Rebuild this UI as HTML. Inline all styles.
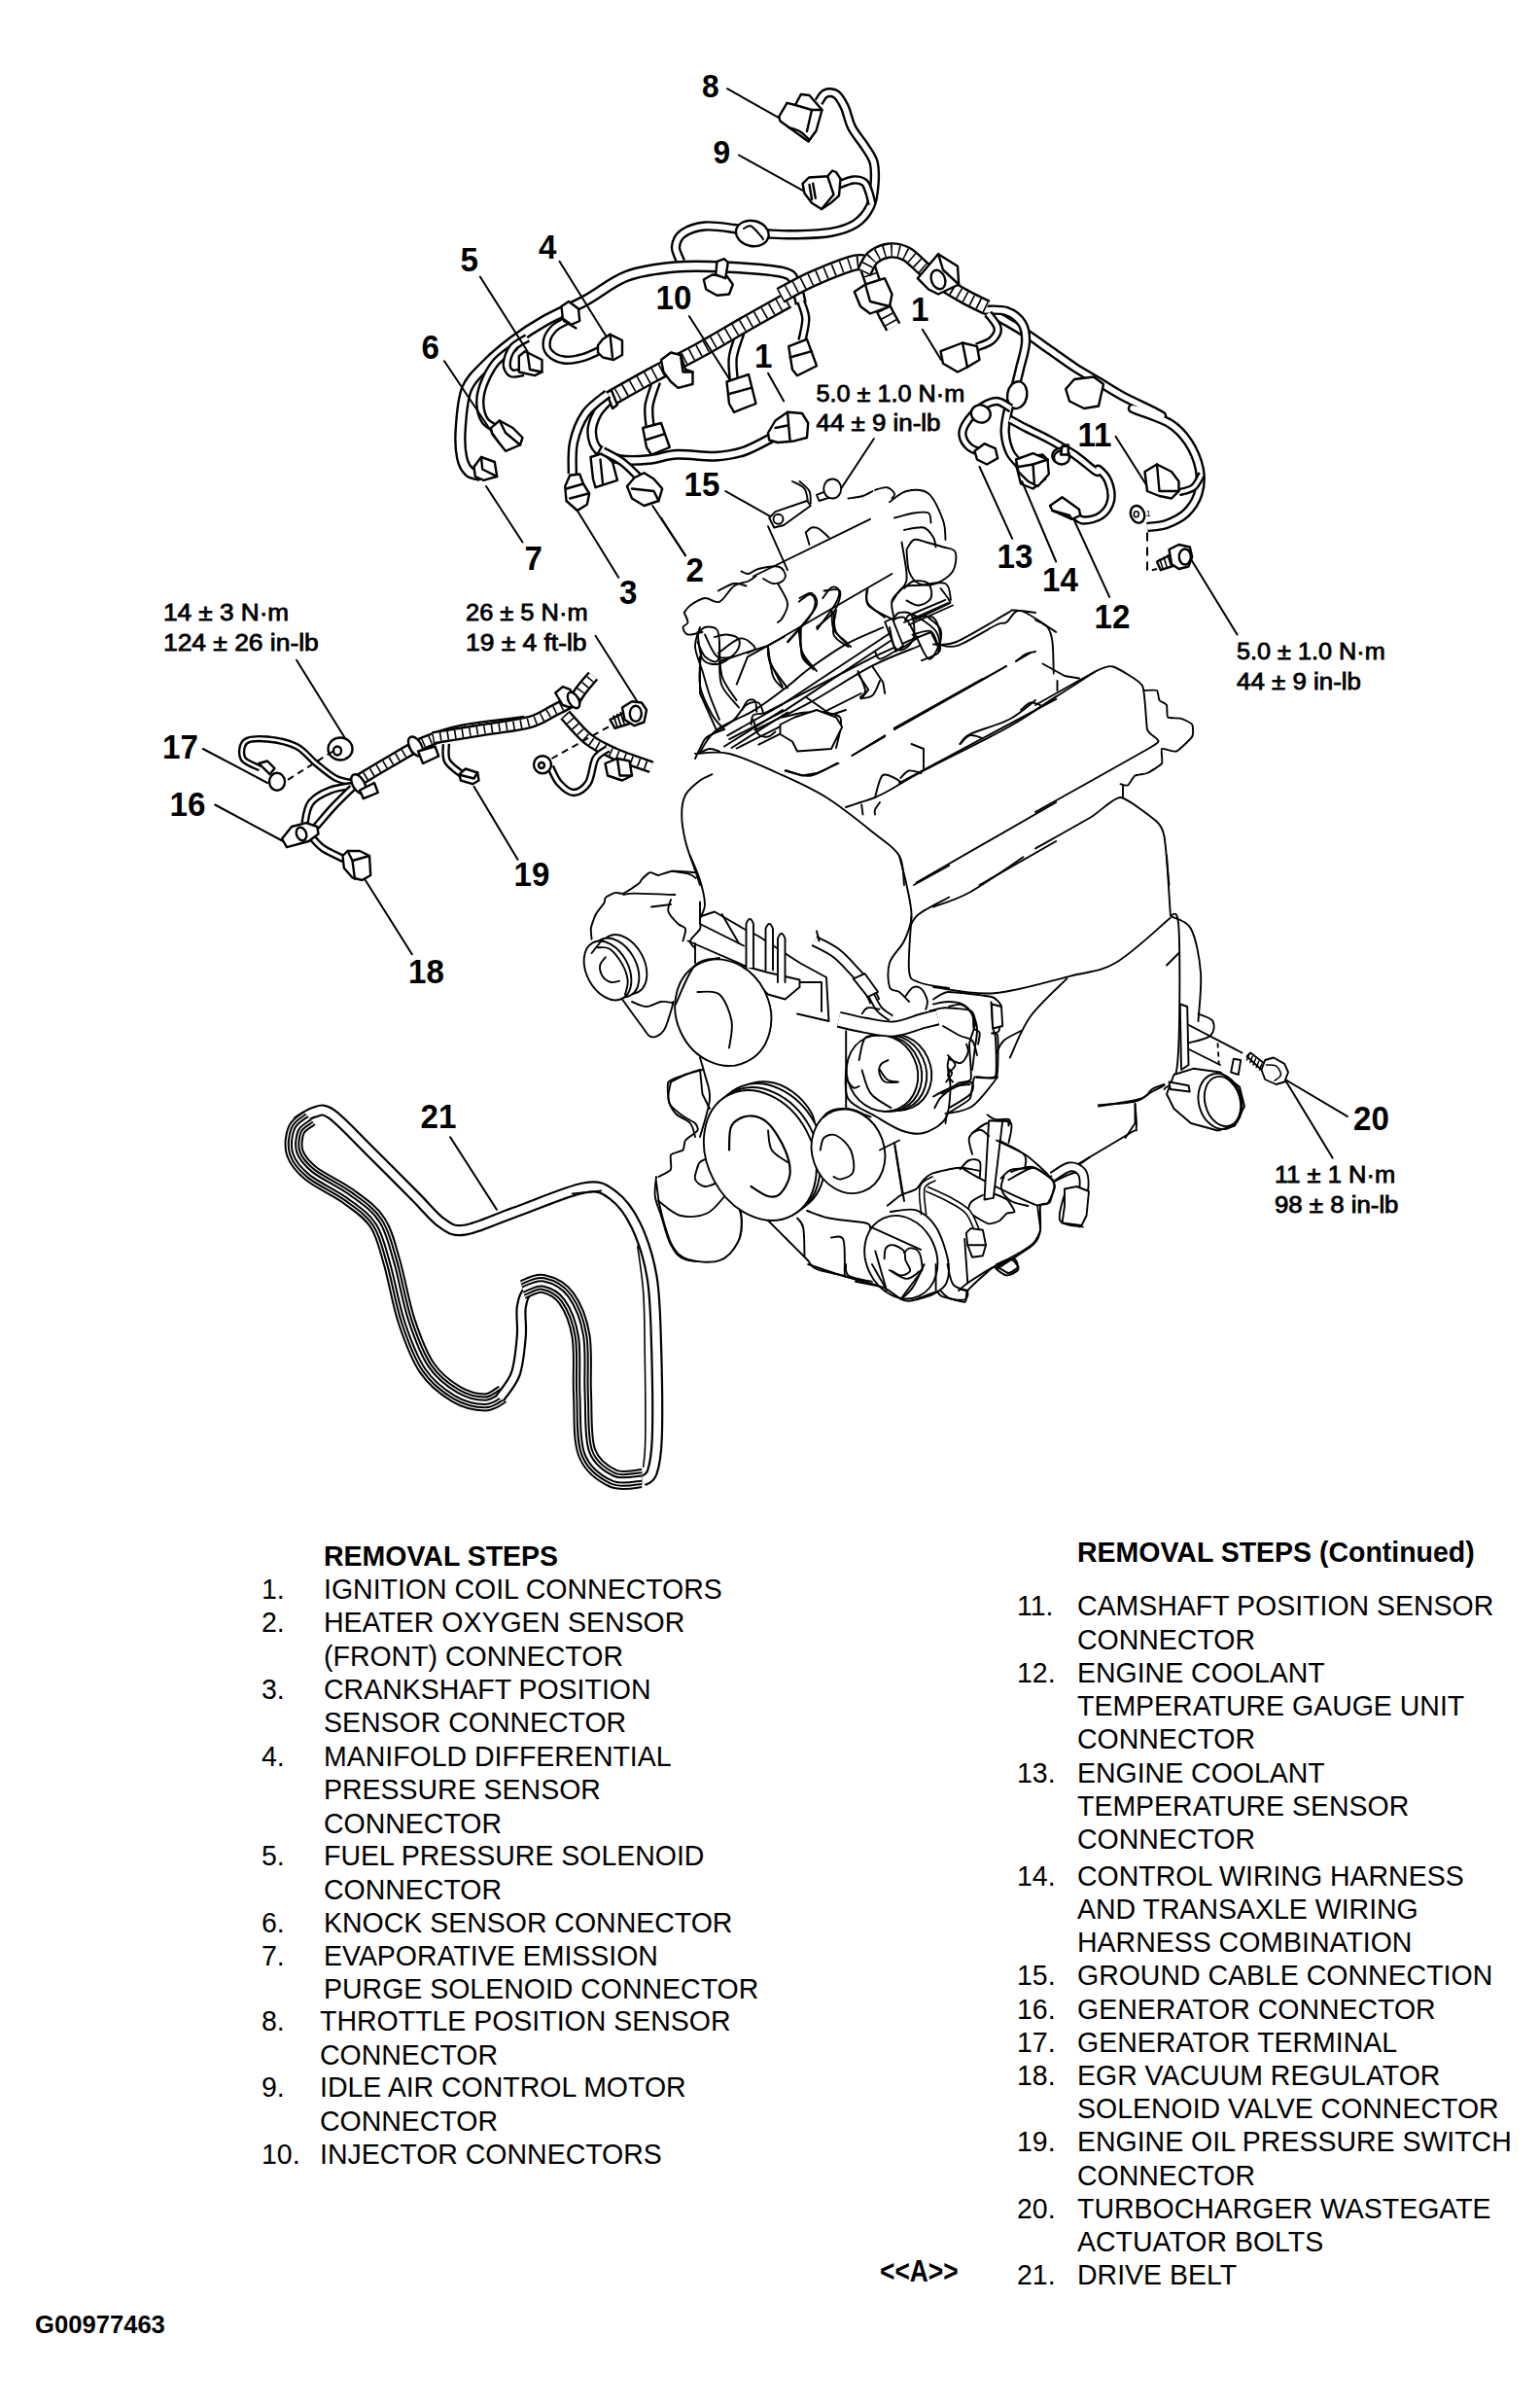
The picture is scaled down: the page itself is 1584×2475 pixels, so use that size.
<!DOCTYPE html>
<html><head><meta charset="utf-8"><style>
html,body{margin:0;padding:0;background:#fff;}
body{width:1584px;height:2475px;position:relative;overflow:hidden;}
.t{position:absolute;white-space:pre;font-family:"Liberation Sans",sans-serif;color:#000;line-height:1;transform-origin:0 0;}
svg{position:absolute;left:0;top:0;}
</style></head><body>
<svg width="1584" height="2475" viewBox="0 0 1584 2475">
<path d="M842,105 C843.1,103.5 845.8,97.6 848.8,96.2 C851.8,94.9 856.7,94.7 860,97 C863.3,99.3 866,104.3 868.8,110 C871.5,115.7 872.7,124.4 876.2,131.2 C879.8,138.1 886.2,145.2 890,151.2 C893.8,157.3 897.2,161 898.8,167.5 C900.3,174 900.1,182.5 899.5,190 C898.9,197.5 898.2,205.8 895,212.5 C891.8,219.2 886.7,225.6 880,230 C873.3,234.4 865,236.9 855,238.8 C845,240.6 830.6,241 820,241.2 C809.4,241.5 799,240.9 791.2,240.5 C783.5,240.1 779.8,239.7 773.8,238.8 C767.7,237.8 763.1,236 755,235 C746.9,234 733.8,231.7 725,232.5 C716.2,233.3 707.5,236.5 702.5,240 C697.5,243.5 695.4,249 695,253.8 C694.6,258.5 699.2,266.2 700,268.8" stroke="#000" stroke-width="10.4" fill="none" stroke-linecap="butt" stroke-linejoin="round"/>
<path d="M842,105 C843.1,103.5 845.8,97.6 848.8,96.2 C851.8,94.9 856.7,94.7 860,97 C863.3,99.3 866,104.3 868.8,110 C871.5,115.7 872.7,124.4 876.2,131.2 C879.8,138.1 886.2,145.2 890,151.2 C893.8,157.3 897.2,161 898.8,167.5 C900.3,174 900.1,182.5 899.5,190 C898.9,197.5 898.2,205.8 895,212.5 C891.8,219.2 886.7,225.6 880,230 C873.3,234.4 865,236.9 855,238.8 C845,240.6 830.6,241 820,241.2 C809.4,241.5 799,240.9 791.2,240.5 C783.5,240.1 779.8,239.7 773.8,238.8 C767.7,237.8 763.1,236 755,235 C746.9,234 733.8,231.7 725,232.5 C716.2,233.3 707.5,236.5 702.5,240 C697.5,243.5 695.4,249 695,253.8 C694.6,258.5 699.2,266.2 700,268.8" stroke="#fff" stroke-width="5.6" fill="none" stroke-linecap="butt" stroke-linejoin="round"/>
<path d="M861.2,190.5 C864,189.6 872.9,185.5 877.5,185 C882.1,184.5 886,185.4 888.8,187.5 C891.5,189.6 892.4,193.8 893.8,197.5 C895.1,201.2 896.5,207.9 897,210" stroke="#000" stroke-width="9.4" fill="none" stroke-linecap="butt" stroke-linejoin="round"/>
<path d="M861.2,190.5 C864,189.6 872.9,185.5 877.5,185 C882.1,184.5 886,185.4 888.8,187.5 C891.5,189.6 892.4,193.8 893.8,197.5 C895.1,201.2 896.5,207.9 897,210" stroke="#fff" stroke-width="4.6" fill="none" stroke-linecap="butt" stroke-linejoin="round"/>
<path d="M801.2,120 L809.5,105.8 L818,108 L823.8,97 L832.5,98 L845.5,113 L839.5,134.5 L831.5,145.5 L802.5,124.5 Z" stroke="#000" stroke-width="2.4" fill="#fff" stroke-linejoin="round" stroke-linecap="round"/>
<path d="M818,108 L835,113 L845.5,113" stroke="#000" stroke-width="2.4" fill="none" stroke-linejoin="round" stroke-linecap="round"/>
<path d="M835,113 L830,135" stroke="#000" stroke-width="2.4" fill="none" stroke-linejoin="round" stroke-linecap="round"/>
<path d="M811.2,131.2 C813.1,131.9 819,132.9 822.5,135 C826,137.1 830.8,142.3 832.5,143.8" stroke="#000" stroke-width="2.4" fill="none" stroke-linejoin="round" stroke-linecap="round"/>
<path d="M825.5,188.8 L832,182.5 L851.2,181.2 L856.2,175.5 L860,177 L864.5,183.8 L863,201.2 L854.5,208.8 L845,215 L835,208.8 L827.5,198.8 Z" stroke="#000" stroke-width="2.4" fill="#fff" stroke-linejoin="round" stroke-linecap="round"/>
<path d="M851.2,181.2 L857.5,200 L845,215" stroke="#000" stroke-width="2.4" fill="none" stroke-linejoin="round" stroke-linecap="round"/>
<path d="M832.5,190 L835,205" stroke="#000" stroke-width="2.4" fill="none" stroke-linejoin="round" stroke-linecap="round"/>
<path d="M836.2,188.8 L838.8,203.8" stroke="#000" stroke-width="2.4" fill="none" stroke-linejoin="round" stroke-linecap="round"/>
<ellipse cx="773.8" cy="240" rx="17" ry="13" transform="rotate(12 773.8 240)" stroke="#000" stroke-width="2.4" fill="#fff"/>
<path d="M765,235 C766.2,234.6 769.6,231.2 772.5,232.5 C775.4,233.8 780.4,240.2 782.5,242.5 C784.6,244.8 784.6,245.6 785,246.2" stroke="#000" stroke-width="2" fill="none" stroke-linejoin="round" stroke-linecap="round"/>
<text x="0" y="0" transform="translate(722 99.5) scale(0.96 1)" font-family="Liberation Sans" font-size="33" font-weight="bold" text-anchor="start">8</text>
<path d="M748,91.2 L801.2,121.2" stroke="#000" stroke-width="2" fill="none" stroke-linejoin="round" stroke-linecap="round"/>
<text x="0" y="0" transform="translate(733.5 168) scale(0.96 1)" font-family="Liberation Sans" font-size="33" font-weight="bold" text-anchor="start">9</text>
<path d="M760,159.5 L826.2,196.2" stroke="#000" stroke-width="2" fill="none" stroke-linejoin="round" stroke-linecap="round"/>
<path d="M823.8,312 C822.8,308.7 821.1,297.3 818,292 C814.9,286.7 817.2,282.9 805,280 C792.8,277.1 763.3,275.4 745,274.5 C726.7,273.6 711.7,273 695,274.5 C678.3,276 660.4,278 645,283.8 C629.6,289.5 616.7,301 602.5,308.8 C588.3,316.5 572.5,322.9 560,330 C547.5,337.1 537.5,343.8 527.5,351.2 C517.5,358.8 507.9,366.9 500,375 C492.1,383.1 484.4,389.2 480,400 C475.6,410.8 474.6,428.3 473.8,440 C472.9,451.7 473.5,462.5 475,470 C476.5,477.5 479.2,481.9 482.5,485 C485.8,488.1 492.9,488.1 495,488.8" stroke="#000" stroke-width="12.4" fill="none" stroke-linecap="butt" stroke-linejoin="round"/>
<path d="M823.8,312 C822.8,308.7 821.1,297.3 818,292 C814.9,286.7 817.2,282.9 805,280 C792.8,277.1 763.3,275.4 745,274.5 C726.7,273.6 711.7,273 695,274.5 C678.3,276 660.4,278 645,283.8 C629.6,289.5 616.7,301 602.5,308.8 C588.3,316.5 572.5,322.9 560,330 C547.5,337.1 537.5,343.8 527.5,351.2 C517.5,358.8 507.9,366.9 500,375 C492.1,383.1 484.4,389.2 480,400 C475.6,410.8 474.6,428.3 473.8,440 C472.9,451.7 473.5,462.5 475,470 C476.5,477.5 479.2,481.9 482.5,485 C485.8,488.1 492.9,488.1 495,488.8" stroke="#fff" stroke-width="7.6" fill="none" stroke-linecap="butt" stroke-linejoin="round"/>
<path d="M530,356.2 C526.7,359 515.4,366 510,372.5 C504.6,379 500.2,387.9 497.5,395 C494.8,402.1 493.5,408.8 493.8,415 C494,421.2 495.8,428.1 498.8,432.5 C501.7,436.9 509.2,439.8 511.2,441.2" stroke="#000" stroke-width="9.4" fill="none" stroke-linecap="butt" stroke-linejoin="round"/>
<path d="M530,356.2 C526.7,359 515.4,366 510,372.5 C504.6,379 500.2,387.9 497.5,395 C494.8,402.1 493.5,408.8 493.8,415 C494,421.2 495.8,428.1 498.8,432.5 C501.7,436.9 509.2,439.8 511.2,441.2" stroke="#fff" stroke-width="4.6" fill="none" stroke-linecap="butt" stroke-linejoin="round"/>
<path d="M542.5,347.5 C540,349.2 531,353.1 527.5,357.5 C524,361.9 521.5,369.4 521.2,373.8 C521,378.1 523.3,382.3 526.2,383.8 C529.2,385.2 536.7,382.7 538.8,382.5" stroke="#000" stroke-width="9.4" fill="none" stroke-linecap="butt" stroke-linejoin="round"/>
<path d="M542.5,347.5 C540,349.2 531,353.1 527.5,357.5 C524,361.9 521.5,369.4 521.2,373.8 C521,378.1 523.3,382.3 526.2,383.8 C529.2,385.2 536.7,382.7 538.8,382.5" stroke="#fff" stroke-width="4.6" fill="none" stroke-linecap="butt" stroke-linejoin="round"/>
<path d="M582.5,330 C580.4,331.2 573.3,334.2 570,337.5 C566.7,340.8 563.3,345.8 562.5,350 C561.7,354.2 562.1,359.2 565,362.5 C567.9,365.8 574.2,369.2 580,370 C585.8,370.8 593.3,369.4 600,367.5 C606.7,365.6 616.7,360.2 620,358.8" stroke="#000" stroke-width="9.4" fill="none" stroke-linecap="butt" stroke-linejoin="round"/>
<path d="M582.5,330 C580.4,331.2 573.3,334.2 570,337.5 C566.7,340.8 563.3,345.8 562.5,350 C561.7,354.2 562.1,359.2 565,362.5 C567.9,365.8 574.2,369.2 580,370 C585.8,370.8 593.3,369.4 600,367.5 C606.7,365.6 616.7,360.2 620,358.8" stroke="#fff" stroke-width="4.6" fill="none" stroke-linecap="butt" stroke-linejoin="round"/>
<path d="M577.5,315 L585,310 L595,317.5 L596.2,330 L587.5,333.8 L578.8,327.5 Z" stroke="#000" stroke-width="2.4" fill="#fff" stroke-linejoin="round" stroke-linecap="round"/>
<path d="M580,330 L592.5,337.5" stroke="#000" stroke-width="2.4" fill="none" stroke-linejoin="round" stroke-linecap="round"/>
<path d="M615,355 L620,348.8 L627.5,343.8 L640,350 L640,365 L631.2,370 L620,367.5 L615,362.5 Z" stroke="#000" stroke-width="2.4" fill="#fff" stroke-linejoin="round" stroke-linecap="round"/>
<path d="M627.5,343.8 L630,367.5" stroke="#000" stroke-width="2.4" fill="none" stroke-linejoin="round" stroke-linecap="round"/>
<path d="M533.8,366.2 L540,361.2 L557.5,370 L557.5,382.5 L550,386.2 L533.8,382.5 Z" stroke="#000" stroke-width="2.4" fill="#fff" stroke-linejoin="round" stroke-linecap="round"/>
<path d="M542.5,362.5 L545,380 L557.5,382.5" stroke="#000" stroke-width="2.4" fill="none" stroke-linejoin="round" stroke-linecap="round"/>
<path d="M505,440 L513.8,432.5 L527.5,440 L537.5,450 L535,457.5 L520,463.8 L506.2,446.2 Z" stroke="#000" stroke-width="2.4" fill="#fff" stroke-linejoin="round" stroke-linecap="round"/>
<path d="M513.8,432.5 L520,445 L535,457.5" stroke="#000" stroke-width="2.4" fill="none" stroke-linejoin="round" stroke-linecap="round"/>
<path d="M487.5,480 L495,470 L508.8,475 L511.2,490 L497.5,493.8 L488.8,490 Z" stroke="#000" stroke-width="2.4" fill="#fff" stroke-linejoin="round" stroke-linecap="round"/>
<path d="M495,470 L496.2,482.5 L511.2,490" stroke="#000" stroke-width="2.4" fill="none" stroke-linejoin="round" stroke-linecap="round"/>
<path d="M723.8,287.5 L732.5,282.5 L747.5,283.8 L753.8,292.5 L750,302.5 L737.5,303.8 L726.2,297.5 Z" stroke="#000" stroke-width="2.4" fill="#fff" stroke-linejoin="round" stroke-linecap="round"/>
<path d="M736.2,282.5 L737.5,268.8 L745,266.2 L748.8,270 L746.2,286.2 Z" stroke="#000" stroke-width="2.4" fill="#fff" stroke-linejoin="round" stroke-linecap="round"/>
<path d="M628.2,409.2 C625.9,411.8 617.8,419 614.5,424.8 C611.3,430.7 608.5,438 608.7,444.3 C608.9,450.6 610.7,458.1 615.5,462.8 C620.4,467.5 629.3,470.9 637.9,472.5 C646.5,474.2 657.4,473.4 667.1,472.5 C676.9,471.7 685,467.8 696.4,467.3 C707.7,466.7 724,469.7 735.3,469.2 C746.7,468.7 754.8,467.3 764.6,464.2 C774.3,461 788.9,452.5 793.8,450.1" stroke="#000" stroke-width="10.9" fill="none" stroke-linecap="butt" stroke-linejoin="round"/>
<path d="M628.2,409.2 C625.9,411.8 617.8,419 614.5,424.8 C611.3,430.7 608.5,438 608.7,444.3 C608.9,450.6 610.7,458.1 615.5,462.8 C620.4,467.5 629.3,470.9 637.9,472.5 C646.5,474.2 657.4,473.4 667.1,472.5 C676.9,471.7 685,467.8 696.4,467.3 C707.7,466.7 724,469.7 735.3,469.2 C746.7,468.7 754.8,467.3 764.6,464.2 C774.3,461 788.9,452.5 793.8,450.1" stroke="#fff" stroke-width="6.1" fill="none" stroke-linecap="butt" stroke-linejoin="round"/>
<path d="M675,392.5 C673.8,396.7 668.5,409.6 667.5,417.5 C666.5,425.4 668.5,436.2 668.8,440" stroke="#000" stroke-width="10.4" fill="none" stroke-linecap="butt" stroke-linejoin="round"/>
<path d="M675,392.5 C673.8,396.7 668.5,409.6 667.5,417.5 C666.5,425.4 668.5,436.2 668.8,440" stroke="#fff" stroke-width="5.6" fill="none" stroke-linecap="butt" stroke-linejoin="round"/>
<path d="M661.2,440 L680,435 L688.8,460 L670,467.5 L665,460 Z" stroke="#000" stroke-width="2.4" fill="#fff" stroke-linejoin="round" stroke-linecap="round"/>
<path d="M663.8,452.5 L683.8,446.2" stroke="#000" stroke-width="2.4" fill="none" stroke-linejoin="round" stroke-linecap="round"/>
<path d="M761.2,342.5 C760,346.7 754.8,359.2 753.8,367.5 C752.7,375.8 754.8,388.3 755,392.5" stroke="#000" stroke-width="10.4" fill="none" stroke-linecap="butt" stroke-linejoin="round"/>
<path d="M761.2,342.5 C760,346.7 754.8,359.2 753.8,367.5 C752.7,375.8 754.8,388.3 755,392.5" stroke="#fff" stroke-width="5.6" fill="none" stroke-linecap="butt" stroke-linejoin="round"/>
<path d="M747.5,392.5 L770,385 L777.5,415 L755,423.8 L750,415 Z" stroke="#000" stroke-width="2.4" fill="#fff" stroke-linejoin="round" stroke-linecap="round"/>
<path d="M750,405 L772.5,398.8" stroke="#000" stroke-width="2.4" fill="none" stroke-linejoin="round" stroke-linecap="round"/>
<path d="M627.5,410 C634.6,406 654.6,394.6 670,386.2 C685.4,377.9 703.3,369.2 720,360 C736.7,350.8 755,339.8 770,331.2 C785,322.7 803.3,312.5 810,308.8" stroke="#000" stroke-width="17.4" fill="none" stroke-linecap="butt" stroke-linejoin="round"/>
<path d="M627.5,410 C634.6,406 654.6,394.6 670,386.2 C685.4,377.9 703.3,369.2 720,360 C736.7,350.8 755,339.8 770,331.2 C785,322.7 803.3,312.5 810,308.8" stroke="#fff" stroke-width="12.6" fill="none" stroke-linecap="butt" stroke-linejoin="round"/>
<path d="M627.5,410 C634.6,406 654.6,394.6 670,386.2 C685.4,377.9 703.3,369.2 720,360 C736.7,350.8 755,339.8 770,331.2 C785,322.7 803.3,312.5 810,308.8" stroke="#000" stroke-width="12.6" fill="none" stroke-dasharray="1.6 7"/>
<path d="M623.8,403.8 L628.8,401.2 L635,416.2 L630,420 Z" stroke="#000" stroke-width="2.4" fill="#fff" stroke-linejoin="round" stroke-linecap="round"/>
<path d="M680,370 L690,362.5 L700,365 L705,380 L712.5,382.5 L712.5,395 L697.5,398.8 L690,392.5 L682.5,382.5 Z" stroke="#000" stroke-width="2.4" fill="#fff" stroke-linejoin="round" stroke-linecap="round"/>
<path d="M700,365 L702.5,382.5 L712.5,382.5" stroke="#000" stroke-width="2.4" fill="none" stroke-linejoin="round" stroke-linecap="round"/>
<text x="0" y="0" transform="translate(473.5 278.5) scale(0.96 1)" font-family="Liberation Sans" font-size="34.5" font-weight="bold" text-anchor="start">5</text>
<path d="M493.8,284.5 L542.5,361.2" stroke="#000" stroke-width="2" fill="none" stroke-linejoin="round" stroke-linecap="round"/>
<text x="0" y="0" transform="translate(554 266) scale(0.96 1)" font-family="Liberation Sans" font-size="34.5" font-weight="bold" text-anchor="start">4</text>
<path d="M575.5,268.8 L623.8,346.2" stroke="#000" stroke-width="2" fill="none" stroke-linejoin="round" stroke-linecap="round"/>
<text x="0" y="0" transform="translate(433.5 368.5) scale(0.96 1)" font-family="Liberation Sans" font-size="34.5" font-weight="bold" text-anchor="start">6</text>
<path d="M457,371.2 L513.8,456.2" stroke="#000" stroke-width="2" fill="none" stroke-linejoin="round" stroke-linecap="round"/>
<text x="0" y="0" transform="translate(674.5 318) scale(0.96 1)" font-family="Liberation Sans" font-size="34.5" font-weight="bold" text-anchor="start">10</text>
<path d="M708.8,325 L751.2,391.2" stroke="#000" stroke-width="2" fill="none" stroke-linejoin="round" stroke-linecap="round"/>
<text x="0" y="0" transform="translate(776 377.5) scale(0.96 1)" font-family="Liberation Sans" font-size="34.5" font-weight="bold" text-anchor="start">1</text>
<path d="M790,383.8 L806.2,412.5" stroke="#000" stroke-width="2" fill="none" stroke-linejoin="round" stroke-linecap="round"/>
<path d="M1012.5,317.5 C1015.4,319.2 1022.9,323.3 1030,327.5 C1037.1,331.7 1046.7,337.1 1055,342.5 C1063.3,347.9 1071.7,354.2 1080,360 C1088.3,365.8 1096.7,372.1 1105,377.5 C1113.3,382.9 1121.7,387.5 1130,392.5 C1138.3,397.5 1144.2,401.7 1155,407.5 C1165.8,413.3 1193.3,425.4 1195,427.5 C1196.7,429.6 1163.8,418.8 1165,420 C1166.2,421.2 1192.9,429.2 1202.5,435 C1212.1,440.8 1217.3,447.1 1222.5,455 C1227.7,462.9 1232.1,473.8 1233.8,482.5 C1235.4,491.2 1234.8,500 1232.5,507.5 C1230.2,515 1225.4,522.3 1220,527.5 C1214.6,532.7 1206.7,536.3 1200,538.8 C1193.3,541.2 1183.3,541.5 1180,542" stroke="#000" stroke-width="10.4" fill="none" stroke-linecap="butt" stroke-linejoin="round"/>
<path d="M1012.5,317.5 C1015.4,319.2 1022.9,323.3 1030,327.5 C1037.1,331.7 1046.7,337.1 1055,342.5 C1063.3,347.9 1071.7,354.2 1080,360 C1088.3,365.8 1096.7,372.1 1105,377.5 C1113.3,382.9 1121.7,387.5 1130,392.5 C1138.3,397.5 1144.2,401.7 1155,407.5 C1165.8,413.3 1193.3,425.4 1195,427.5 C1196.7,429.6 1163.8,418.8 1165,420 C1166.2,421.2 1192.9,429.2 1202.5,435 C1212.1,440.8 1217.3,447.1 1222.5,455 C1227.7,462.9 1232.1,473.8 1233.8,482.5 C1235.4,491.2 1234.8,500 1232.5,507.5 C1230.2,515 1225.4,522.3 1220,527.5 C1214.6,532.7 1206.7,536.3 1200,538.8 C1193.3,541.2 1183.3,541.5 1180,542" stroke="#fff" stroke-width="5.6" fill="none" stroke-linecap="butt" stroke-linejoin="round"/>
<path d="M1012.5,318.8 C1016.2,319 1028.5,317.7 1035,320 C1041.5,322.3 1047.9,327.1 1051.2,332.5 C1054.6,337.9 1055.4,344.6 1055,352.5 C1054.6,360.4 1050.8,371.2 1048.8,380 C1046.7,388.8 1044.6,397.5 1042.5,405 C1040.4,412.5 1037.7,418.3 1036.2,425 C1034.8,431.7 1033.3,438.3 1033.8,445 C1034.2,451.7 1036.2,459.6 1038.8,465 C1041.2,470.4 1047.1,475.4 1048.8,477.5" stroke="#000" stroke-width="10.4" fill="none" stroke-linecap="butt" stroke-linejoin="round"/>
<path d="M1012.5,318.8 C1016.2,319 1028.5,317.7 1035,320 C1041.5,322.3 1047.9,327.1 1051.2,332.5 C1054.6,337.9 1055.4,344.6 1055,352.5 C1054.6,360.4 1050.8,371.2 1048.8,380 C1046.7,388.8 1044.6,397.5 1042.5,405 C1040.4,412.5 1037.7,418.3 1036.2,425 C1034.8,431.7 1033.3,438.3 1033.8,445 C1034.2,451.7 1036.2,459.6 1038.8,465 C1041.2,470.4 1047.1,475.4 1048.8,477.5" stroke="#fff" stroke-width="5.6" fill="none" stroke-linecap="butt" stroke-linejoin="round"/>
<path d="M1016.2,322.5 C1017.9,325 1025.6,332.9 1026.2,337.5 C1026.9,342.1 1023.5,346.8 1020,350 C1016.5,353.2 1007.5,355.8 1005,357" stroke="#000" stroke-width="9.4" fill="none" stroke-linecap="butt" stroke-linejoin="round"/>
<path d="M1016.2,322.5 C1017.9,325 1025.6,332.9 1026.2,337.5 C1026.9,342.1 1023.5,346.8 1020,350 C1016.5,353.2 1007.5,355.8 1005,357" stroke="#fff" stroke-width="4.6" fill="none" stroke-linecap="butt" stroke-linejoin="round"/>
<path d="M967.5,361.2 L990,352.5 L1005,356.2 L1007.5,370 L995,377.5 L985,382.5 L970,373.8 Z" stroke="#000" stroke-width="2.4" fill="#fff" stroke-linejoin="round" stroke-linecap="round"/>
<path d="M990,352.5 L995,377.5" stroke="#000" stroke-width="2.4" fill="none" stroke-linejoin="round" stroke-linecap="round"/>
<path d="M892.5,275 C894,279.2 898.3,292.5 901.2,300 C904.2,307.5 907.1,314 910,320 C912.9,326 917.3,333.5 918.8,336.2" stroke="#000" stroke-width="17.4" fill="none" stroke-linecap="butt" stroke-linejoin="round"/>
<path d="M892.5,275 C894,279.2 898.3,292.5 901.2,300 C904.2,307.5 907.1,314 910,320 C912.9,326 917.3,333.5 918.8,336.2" stroke="#fff" stroke-width="12.6" fill="none" stroke-linecap="butt" stroke-linejoin="round"/>
<path d="M892.5,275 C894,279.2 898.3,292.5 901.2,300 C904.2,307.5 907.1,314 910,320 C912.9,326 917.3,333.5 918.8,336.2" stroke="#000" stroke-width="12.6" fill="none" stroke-dasharray="1.6 6"/>
<path d="M878.8,300 L890,292.5 L910,286.2 L917.5,302.5 L915,315 L895,322.5 L885,315 Z" stroke="#000" stroke-width="2.4" fill="#fff" stroke-linejoin="round" stroke-linecap="round"/>
<path d="M890,292.5 L895,310 L915,315" stroke="#000" stroke-width="2.4" fill="none" stroke-linejoin="round" stroke-linecap="round"/>
<path d="M802.5,303.8 C807.9,301 822.9,292.4 835,287 C847.1,281.6 865.8,274.1 875,271.2 C884.2,268.4 887.5,270.2 890,270" stroke="#000" stroke-width="17.4" fill="none" stroke-linecap="butt" stroke-linejoin="round"/>
<path d="M802.5,303.8 C807.9,301 822.9,292.4 835,287 C847.1,281.6 865.8,274.1 875,271.2 C884.2,268.4 887.5,270.2 890,270" stroke="#fff" stroke-width="12.6" fill="none" stroke-linecap="butt" stroke-linejoin="round"/>
<path d="M802.5,303.8 C807.9,301 822.9,292.4 835,287 C847.1,281.6 865.8,274.1 875,271.2 C884.2,268.4 887.5,270.2 890,270" stroke="#000" stroke-width="12.6" fill="none" stroke-dasharray="1.6 7"/>
<path d="M888.8,280 C890.2,277.5 893.1,268.8 897.5,265 C901.9,261.2 909.2,258.1 915,257.5 C920.8,256.9 926.7,258.1 932.5,261.2 C938.3,264.4 944.2,271.5 950,276.2 C955.8,281 960.4,285.2 967.5,290 C974.6,294.8 984.6,300.6 992.5,305 C1000.4,309.4 1011.2,314.4 1015,316.2" stroke="#000" stroke-width="16.4" fill="none" stroke-linecap="butt" stroke-linejoin="round"/>
<path d="M888.8,280 C890.2,277.5 893.1,268.8 897.5,265 C901.9,261.2 909.2,258.1 915,257.5 C920.8,256.9 926.7,258.1 932.5,261.2 C938.3,264.4 944.2,271.5 950,276.2 C955.8,281 960.4,285.2 967.5,290 C974.6,294.8 984.6,300.6 992.5,305 C1000.4,309.4 1011.2,314.4 1015,316.2" stroke="#fff" stroke-width="11.6" fill="none" stroke-linecap="butt" stroke-linejoin="round"/>
<path d="M888.8,280 C890.2,277.5 893.1,268.8 897.5,265 C901.9,261.2 909.2,258.1 915,257.5 C920.8,256.9 926.7,258.1 932.5,261.2 C938.3,264.4 944.2,271.5 950,276.2 C955.8,281 960.4,285.2 967.5,290 C974.6,294.8 984.6,300.6 992.5,305 C1000.4,309.4 1011.2,314.4 1015,316.2" stroke="#000" stroke-width="11.6" fill="none" stroke-dasharray="1.6 6"/>
<path d="M943.8,286.2 L965,261.2 L985,273.8 L986.2,292.5 L965,302.5 L955,297.5 Z" stroke="#000" stroke-width="2.4" fill="#fff" stroke-linejoin="round" stroke-linecap="round"/>
<path d="M965,261.2 L970,277.5 L986.2,292.5" stroke="#000" stroke-width="2.4" fill="none" stroke-linejoin="round" stroke-linecap="round"/>
<ellipse cx="965" cy="287.5" rx="7" ry="10" transform="rotate(-20 965 287.5)" stroke="#000" stroke-width="2.4" fill="#fff"/>
<path d="M823.8,310 C824.6,312.9 828.5,320.8 828.8,327.5 C829,334.2 825.6,346.2 825,350" stroke="#000" stroke-width="9.4" fill="none" stroke-linecap="butt" stroke-linejoin="round"/>
<path d="M823.8,310 C824.6,312.9 828.5,320.8 828.8,327.5 C829,334.2 825.6,346.2 825,350" stroke="#fff" stroke-width="4.6" fill="none" stroke-linecap="butt" stroke-linejoin="round"/>
<path d="M811.2,356.2 L830,348.8 L840,376.2 L820,386.2 L815,380 Z" stroke="#000" stroke-width="2.4" fill="#fff" stroke-linejoin="round" stroke-linecap="round"/>
<path d="M812.5,367.5 L835,361.2" stroke="#000" stroke-width="2.4" fill="none" stroke-linejoin="round" stroke-linecap="round"/>
<ellipse cx="1046.2" cy="406.2" rx="10" ry="14" transform="rotate(10 1046.2 406.2)" stroke="#000" stroke-width="2.4" fill="#fff"/>
<path d="M1040,420 C1037.5,418.8 1030.4,412.5 1025,412.5 C1019.6,412.5 1012.7,416.2 1007.5,420 C1002.3,423.8 996.7,430.4 993.8,435 C990.8,439.6 989.4,443.3 990,447.5 C990.6,451.7 993.8,456.9 997.5,460 C1001.2,463.1 1010,465.2 1012.5,466.2" stroke="#000" stroke-width="9.4" fill="none" stroke-linecap="butt" stroke-linejoin="round"/>
<path d="M1040,420 C1037.5,418.8 1030.4,412.5 1025,412.5 C1019.6,412.5 1012.7,416.2 1007.5,420 C1002.3,423.8 996.7,430.4 993.8,435 C990.8,439.6 989.4,443.3 990,447.5 C990.6,451.7 993.8,456.9 997.5,460 C1001.2,463.1 1010,465.2 1012.5,466.2" stroke="#fff" stroke-width="4.6" fill="none" stroke-linecap="butt" stroke-linejoin="round"/>
<ellipse cx="1008.8" cy="425.5" rx="10" ry="9" transform="rotate(20 1008.8 425.5)" stroke="#000" stroke-width="2.4" fill="#fff"/>
<path d="M1038.8,431.2 C1041.5,432.7 1048.1,436.5 1055,440 C1061.9,443.5 1071.7,447.9 1080,452.5 C1088.3,457.1 1097.1,462.1 1105,467.5 C1112.9,472.9 1123.3,482.5 1127.5,485 C1131.7,487.5 1127.9,480.8 1130,482.5 C1132.1,484.2 1137.9,489.6 1140,495 C1142.1,500.4 1143.8,509.2 1142.5,515 C1141.2,520.8 1137.1,526.7 1132.5,530 C1127.9,533.3 1119.4,534.9 1115,535 C1110.6,535.1 1107.7,531.2 1106.2,530.5" stroke="#000" stroke-width="9.4" fill="none" stroke-linecap="butt" stroke-linejoin="round"/>
<path d="M1038.8,431.2 C1041.5,432.7 1048.1,436.5 1055,440 C1061.9,443.5 1071.7,447.9 1080,452.5 C1088.3,457.1 1097.1,462.1 1105,467.5 C1112.9,472.9 1123.3,482.5 1127.5,485 C1131.7,487.5 1127.9,480.8 1130,482.5 C1132.1,484.2 1137.9,489.6 1140,495 C1142.1,500.4 1143.8,509.2 1142.5,515 C1141.2,520.8 1137.1,526.7 1132.5,530 C1127.9,533.3 1119.4,534.9 1115,535 C1110.6,535.1 1107.7,531.2 1106.2,530.5" stroke="#fff" stroke-width="4.6" fill="none" stroke-linecap="butt" stroke-linejoin="round"/>
<ellipse cx="1091.2" cy="468.8" rx="9" ry="8" transform="rotate(0 1091.2 468.8)" stroke="#000" stroke-width="2.4" fill="#fff"/>
<path d="M1002.5,463.8 L1012.5,456.2 L1023.8,461.2 L1026.2,471.2 L1015,477.5 L1005,472.5 Z" stroke="#000" stroke-width="2.4" fill="#fff" stroke-linejoin="round" stroke-linecap="round"/>
<path d="M1045,477.5 L1055,470 L1072.5,467.5 L1077.5,472.5 L1075,492.5 L1062.5,502.5 L1050,497.5 Z" stroke="#000" stroke-width="2.4" fill="#fff" stroke-linejoin="round" stroke-linecap="round"/>
<path d="M1055,470 L1060,487.5 L1075,492.5" stroke="#000" stroke-width="2.4" fill="none" stroke-linejoin="round" stroke-linecap="round"/>
<path d="M1096.2,400 L1105,390 L1125,387.5 L1135,395 L1130,417.5 L1115,420 L1100,412.5 Z" stroke="#000" stroke-width="2.4" fill="#fff" stroke-linejoin="round" stroke-linecap="round"/>
<text x="0" y="0" transform="translate(937 330) scale(0.96 1)" font-family="Liberation Sans" font-size="34.5" font-weight="bold" text-anchor="start">1</text>
<path d="M948.8,338.8 L968,370" stroke="#000" stroke-width="2" fill="none" stroke-linejoin="round" stroke-linecap="round"/>
<text x="0" y="0" transform="translate(839.5 412.5) scale(1.052 1)" font-family="Liberation Sans" font-size="24" font-weight="normal" text-anchor="start" stroke="#000" stroke-width="0.8">5.0 ± 1.0 N·m</text>
<text x="0" y="0" transform="translate(839.5 442.5) scale(1.08 1)" font-family="Liberation Sans" font-size="24" font-weight="normal" text-anchor="start" stroke="#000" stroke-width="0.8">44 ± 9 in-lb</text>
<path d="M898.8,451.2 L865,502.5" stroke="#000" stroke-width="2" fill="none" stroke-linejoin="round" stroke-linecap="round"/>
<text x="0" y="0" transform="translate(1108.5 458.8) scale(0.96 1)" font-family="Liberation Sans" font-size="34.5" font-weight="bold" text-anchor="start">11</text>
<text x="0" y="0" transform="translate(168 637.5) scale(1.09 1)" font-family="Liberation Sans" font-size="24" font-weight="normal" text-anchor="start" stroke="#000" stroke-width="0.8">14 ± 3 N·m</text>
<text x="0" y="0" transform="translate(168 668.8) scale(1.1 1)" font-family="Liberation Sans" font-size="24" font-weight="normal" text-anchor="start" stroke="#000" stroke-width="0.8">124 ± 26 in-lb</text>
<path d="M305,678.8 L355.5,760" stroke="#000" stroke-width="2" fill="none" stroke-linejoin="round" stroke-linecap="round"/>
<ellipse cx="350" cy="770" rx="12.5" ry="11.5" transform="rotate(0 350 770)" stroke="#000" stroke-width="2.4" fill="#fff"/>
<ellipse cx="347" cy="772" rx="4" ry="4.5" transform="rotate(0 347 772)" stroke="#000" stroke-width="2.4" fill="#fff"/>
<path d="M342.5,772.5 L295,802.5" stroke="#000" stroke-width="2" fill="none" stroke-dasharray="7 5"/>
<path d="M362.5,805 C359.6,804.2 351.2,803.3 345,800 C338.8,796.7 331.7,790.4 325,785 C318.3,779.6 313.3,771.7 305,767.5 C296.7,763.3 283.8,760.8 275,760 C266.2,759.2 256.7,759.2 252.5,762.5 C248.3,765.8 247.5,775.4 250,780 C252.5,784.6 264.6,788.3 267.5,790" stroke="#000" stroke-width="7.4" fill="none" stroke-linecap="butt" stroke-linejoin="round"/>
<path d="M362.5,805 C359.6,804.2 351.2,803.3 345,800 C338.8,796.7 331.7,790.4 325,785 C318.3,779.6 313.3,771.7 305,767.5 C296.7,763.3 283.8,760.8 275,760 C266.2,759.2 256.7,759.2 252.5,762.5 C248.3,765.8 247.5,775.4 250,780 C252.5,784.6 264.6,788.3 267.5,790" stroke="#fff" stroke-width="2.6" fill="none" stroke-linecap="butt" stroke-linejoin="round"/>
<path d="M266.2,785 L275,782.5 L282.5,790 L277.5,796.2 Z" stroke="#000" stroke-width="2.4" fill="#fff" stroke-linejoin="round" stroke-linecap="round"/>
<ellipse cx="285" cy="803.8" rx="8" ry="9" transform="rotate(0 285 803.8)" stroke="#000" stroke-width="2.4" fill="#fff"/>
<text x="0" y="0" transform="translate(167 780) scale(0.96 1)" font-family="Liberation Sans" font-size="34.5" font-weight="bold" text-anchor="start">17</text>
<path d="M208.8,770 L275,805" stroke="#000" stroke-width="2" fill="none" stroke-linejoin="round" stroke-linecap="round"/>
<text x="0" y="0" transform="translate(174.5 838.8) scale(0.96 1)" font-family="Liberation Sans" font-size="34.5" font-weight="bold" text-anchor="start">16</text>
<path d="M221.2,827.5 L291.2,865" stroke="#000" stroke-width="2" fill="none" stroke-linejoin="round" stroke-linecap="round"/>
<path d="M365,807.5 C360.8,808.3 347.5,809.6 340,812.5 C332.5,815.4 324.4,819.6 320,825 C315.6,830.4 314.6,839.6 313.8,845 C312.9,850.4 314.8,855.4 315,857.5" stroke="#000" stroke-width="8.4" fill="none" stroke-linecap="butt" stroke-linejoin="round"/>
<path d="M365,807.5 C360.8,808.3 347.5,809.6 340,812.5 C332.5,815.4 324.4,819.6 320,825 C315.6,830.4 314.6,839.6 313.8,845 C312.9,850.4 314.8,855.4 315,857.5" stroke="#fff" stroke-width="3.6" fill="none" stroke-linecap="butt" stroke-linejoin="round"/>
<path d="M362.5,810 C359.2,813.3 348.8,823.3 342.5,830 C336.2,836.7 330,844.6 325,850 C320,855.4 314.6,860.4 312.5,862.5" stroke="#000" stroke-width="8.4" fill="none" stroke-linecap="butt" stroke-linejoin="round"/>
<path d="M362.5,810 C359.2,813.3 348.8,823.3 342.5,830 C336.2,836.7 330,844.6 325,850 C320,855.4 314.6,860.4 312.5,862.5" stroke="#fff" stroke-width="3.6" fill="none" stroke-linecap="butt" stroke-linejoin="round"/>
<path d="M320,860 C322.1,862.1 326.2,868.3 332.5,872.5 C338.8,876.7 353.3,882.9 357.5,885" stroke="#000" stroke-width="8.4" fill="none" stroke-linecap="butt" stroke-linejoin="round"/>
<path d="M320,860 C322.1,862.1 326.2,868.3 332.5,872.5 C338.8,876.7 353.3,882.9 357.5,885" stroke="#fff" stroke-width="3.6" fill="none" stroke-linecap="butt" stroke-linejoin="round"/>
<path d="M290,862.5 L300,850 L315,846.2 L326.2,850 L327.5,857.5 L317.5,865 L295,871.2 Z" stroke="#000" stroke-width="2.4" fill="#fff" stroke-linejoin="round" stroke-linecap="round"/>
<ellipse cx="310" cy="857.5" rx="5" ry="7" transform="rotate(-20 310 857.5)" stroke="#000" stroke-width="2.4" fill="#fff"/>
<path d="M352.5,880 L357.5,875 L370,875 L380,880 L381.2,900 L372.5,905 L362.5,902.5 L353.8,892.5 Z" stroke="#000" stroke-width="2.4" fill="#fff" stroke-linejoin="round" stroke-linecap="round"/>
<path d="M357.5,875 L362.5,885 L380,880" stroke="#000" stroke-width="2.4" fill="none" stroke-linejoin="round" stroke-linecap="round"/>
<path d="M362.5,885 L365,903.8" stroke="#000" stroke-width="2.4" fill="none" stroke-linejoin="round" stroke-linecap="round"/>
<path d="M362.5,806.2 C368.8,802.5 387.5,791 400,783.8 C412.5,776.5 425,768.4 437.5,763 C450,757.6 457.9,754.7 475,751.2 C492.1,747.8 529.2,744 540,742.5" stroke="#000" stroke-width="13.4" fill="none" stroke-linecap="butt" stroke-linejoin="round"/>
<path d="M362.5,806.2 C368.8,802.5 387.5,791 400,783.8 C412.5,776.5 425,768.4 437.5,763 C450,757.6 457.9,754.7 475,751.2 C492.1,747.8 529.2,744 540,742.5" stroke="#fff" stroke-width="8.6" fill="none" stroke-linecap="butt" stroke-linejoin="round"/>
<path d="M362.5,806.2 C368.8,802.5 387.5,791 400,783.8 C412.5,776.5 425,768.4 437.5,763 C450,757.6 457.9,754.7 475,751.2 C492.1,747.8 529.2,744 540,742.5" stroke="#000" stroke-width="8.6" fill="none" stroke-dasharray="1.6 6"/>
<ellipse cx="427.5" cy="767.5" rx="6" ry="11" transform="rotate(-30 427.5 767.5)" stroke="#000" stroke-width="2.4" fill="#fff"/>
<path d="M430,772.5 L447.5,767.5 L451.2,777.5 L435,785 Z" stroke="#000" stroke-width="2.4" fill="#fff" stroke-linejoin="round" stroke-linecap="round"/>
<ellipse cx="368.8" cy="806.2" rx="6" ry="11" transform="rotate(-30 368.8 806.2)" stroke="#000" stroke-width="2.4" fill="#fff"/>
<path d="M370,812.5 L385,805 L388.8,815 L373.8,821.2 Z" stroke="#000" stroke-width="2.4" fill="#fff" stroke-linejoin="round" stroke-linecap="round"/>
<path d="M458.8,765 C459,767.9 457.3,777.3 460,782.5 C462.7,787.7 472.5,794 475,796.2" stroke="#000" stroke-width="8.4" fill="none" stroke-linecap="butt" stroke-linejoin="round"/>
<path d="M458.8,765 C459,767.9 457.3,777.3 460,782.5 C462.7,787.7 472.5,794 475,796.2" stroke="#fff" stroke-width="3.6" fill="none" stroke-linecap="butt" stroke-linejoin="round"/>
<text x="0" y="0" transform="translate(479 637.5) scale(1.06 1)" font-family="Liberation Sans" font-size="24" font-weight="normal" text-anchor="start" stroke="#000" stroke-width="0.8">26 ± 5 N·m</text>
<text x="0" y="0" transform="translate(479 668.8) scale(1.1 1)" font-family="Liberation Sans" font-size="24" font-weight="normal" text-anchor="start" stroke="#000" stroke-width="0.8">19 ± 4 ft-lb</text>
<path d="M612.5,653.8 L656.2,722.5" stroke="#000" stroke-width="2" fill="none" stroke-linejoin="round" stroke-linecap="round"/>
<path d="M445,758.8 C454.2,757.3 483.3,752.7 500,750 C516.7,747.3 533.3,745.8 545,742.5 C556.7,739.2 562.5,734.2 570,730.5 C577.5,726.8 586.7,721.8 590,720" stroke="#000" stroke-width="13.4" fill="none" stroke-linecap="butt" stroke-linejoin="round"/>
<path d="M445,758.8 C454.2,757.3 483.3,752.7 500,750 C516.7,747.3 533.3,745.8 545,742.5 C556.7,739.2 562.5,734.2 570,730.5 C577.5,726.8 586.7,721.8 590,720" stroke="#fff" stroke-width="8.6" fill="none" stroke-linecap="butt" stroke-linejoin="round"/>
<path d="M445,758.8 C454.2,757.3 483.3,752.7 500,750 C516.7,747.3 533.3,745.8 545,742.5 C556.7,739.2 562.5,734.2 570,730.5 C577.5,726.8 586.7,721.8 590,720" stroke="#000" stroke-width="8.6" fill="none" stroke-dasharray="1.6 6"/>
<path d="M581.2,735 C585.2,739.2 596.5,753.3 605,760 C613.5,766.7 621.7,770.2 632.5,775 C643.3,779.8 663.8,786.5 670,788.8" stroke="#000" stroke-width="13.4" fill="none" stroke-linecap="butt" stroke-linejoin="round"/>
<path d="M581.2,735 C585.2,739.2 596.5,753.3 605,760 C613.5,766.7 621.7,770.2 632.5,775 C643.3,779.8 663.8,786.5 670,788.8" stroke="#fff" stroke-width="8.6" fill="none" stroke-linecap="butt" stroke-linejoin="round"/>
<path d="M581.2,735 C585.2,739.2 596.5,753.3 605,760 C613.5,766.7 621.7,770.2 632.5,775 C643.3,779.8 663.8,786.5 670,788.8" stroke="#000" stroke-width="8.6" fill="none" stroke-dasharray="1.6 6"/>
<path d="M588.8,723.8 C590.2,721.5 594,714.8 597.5,710 C601,705.2 607.9,697.5 610,695" stroke="#000" stroke-width="13.4" fill="none" stroke-linecap="butt" stroke-linejoin="round"/>
<path d="M588.8,723.8 C590.2,721.5 594,714.8 597.5,710 C601,705.2 607.9,697.5 610,695" stroke="#fff" stroke-width="8.6" fill="none" stroke-linecap="butt" stroke-linejoin="round"/>
<path d="M588.8,723.8 C590.2,721.5 594,714.8 597.5,710 C601,705.2 607.9,697.5 610,695" stroke="#000" stroke-width="8.6" fill="none" stroke-dasharray="1.6 6"/>
<path d="M571.2,712.5 L578.8,706.2 L586.2,708.8 L593.8,722.5 L586.2,727.5 L578.8,725 Z" stroke="#000" stroke-width="2.4" fill="#fff" stroke-linejoin="round" stroke-linecap="round"/>
<ellipse cx="590" cy="720" rx="5" ry="9" transform="rotate(-30 590 720)" stroke="#000" stroke-width="2.4" fill="#fff"/>
<path d="M622.5,785 L635,780 L647.5,782.5 L650,797.5 L640,802.5 L625,797.5 Z" stroke="#000" stroke-width="2.4" fill="#fff" stroke-linejoin="round" stroke-linecap="round"/>
<path d="M635,780 L637.5,797.5 L650,797.5" stroke="#000" stroke-width="2.4" fill="none" stroke-linejoin="round" stroke-linecap="round"/>
<path d="M625,770 C622.9,771.7 615.8,774.2 612.5,780 C609.2,785.8 608.8,799.2 605,805 C601.2,810.8 595,815 590,815 C585,815 579,809.4 575,805 C571,800.6 567.7,791.5 566.2,788.8" stroke="#000" stroke-width="8.4" fill="none" stroke-linecap="butt" stroke-linejoin="round"/>
<path d="M625,770 C622.9,771.7 615.8,774.2 612.5,780 C609.2,785.8 608.8,799.2 605,805 C601.2,810.8 595,815 590,815 C585,815 579,809.4 575,805 C571,800.6 567.7,791.5 566.2,788.8" stroke="#fff" stroke-width="3.6" fill="none" stroke-linecap="butt" stroke-linejoin="round"/>
<ellipse cx="558" cy="786.2" rx="9" ry="9" transform="rotate(0 558 786.2)" stroke="#000" stroke-width="2.4" fill="#fff"/>
<ellipse cx="557" cy="787" rx="3" ry="3" transform="rotate(0 557 787)" stroke="#000" stroke-width="2.4" fill="#fff"/>
<path d="M567.5,780 L630,745" stroke="#000" stroke-width="2" fill="none" stroke-dasharray="7 5"/>
<path d="M627.5,740 L647.5,730 L652.5,742.5 L632.5,748.8 Z" stroke="#000" stroke-width="2.4" fill="#fff" stroke-linejoin="round" stroke-linecap="round"/>
<path d="M631.2,736.2 L635,747.5" stroke="#000" stroke-width="1.8" fill="none" stroke-linejoin="round" stroke-linecap="round"/>
<path d="M634.8,734.5 L638.5,745.8" stroke="#000" stroke-width="1.8" fill="none" stroke-linejoin="round" stroke-linecap="round"/>
<path d="M638.2,732.8 L642,744" stroke="#000" stroke-width="1.8" fill="none" stroke-linejoin="round" stroke-linecap="round"/>
<path d="M641.8,731 L645.5,742.2" stroke="#000" stroke-width="1.8" fill="none" stroke-linejoin="round" stroke-linecap="round"/>
<path d="M645.2,729.2 L649,740.5" stroke="#000" stroke-width="1.8" fill="none" stroke-linejoin="round" stroke-linecap="round"/>
<path d="M640,727.5 L650,721.2 L660,722.5 L665,730 L662.5,742.5 L652.5,746.2 L642.5,740 Z" stroke="#000" stroke-width="2.4" fill="#fff" stroke-linejoin="round" stroke-linecap="round"/>
<ellipse cx="653.8" cy="733.8" rx="6" ry="8" transform="rotate(0 653.8 733.8)" stroke="#000" stroke-width="2.4" fill="#fff"/>
<path d="M472.5,796.2 L478.8,790.5 L491.2,794.5 L492.5,802.5 L486.2,806.2 L473.8,802.5 Z" stroke="#000" stroke-width="2.4" fill="#fff" stroke-linejoin="round" stroke-linecap="round"/>
<path d="M473.8,797 L487.5,800.5 L491.2,794.5" stroke="#000" stroke-width="2.4" fill="none" stroke-linejoin="round" stroke-linecap="round"/>
<text x="0" y="0" transform="translate(703.5 510) scale(0.96 1)" font-family="Liberation Sans" font-size="34.5" font-weight="bold" text-anchor="start">15</text>
<path d="M746.2,505 L792.5,531.2" stroke="#000" stroke-width="2" fill="none" stroke-linejoin="round" stroke-linecap="round"/>
<text x="0" y="0" transform="translate(705.5 597.5) scale(0.96 1)" font-family="Liberation Sans" font-size="34.5" font-weight="bold" text-anchor="start">2</text>
<path d="M680,532.5 L705,571.2" stroke="#000" stroke-width="2" fill="none" stroke-linejoin="round" stroke-linecap="round"/>
<text x="0" y="0" transform="translate(1025.5 583.8) scale(0.96 1)" font-family="Liberation Sans" font-size="34.5" font-weight="bold" text-anchor="start">13</text>
<path d="M1007.5,480 L1041.2,553.8" stroke="#000" stroke-width="2" fill="none" stroke-linejoin="round" stroke-linecap="round"/>
<path d="M815,495 C817.1,496.2 824.8,498.8 827.5,502.5 C830.2,506.2 830.6,515 831.2,517.5" stroke="#000" stroke-width="1.9" fill="none" stroke-linejoin="round" stroke-linecap="round"/>
<path d="M822.5,495 C824.2,496.7 830.6,501.2 832.5,505 C834.4,508.8 833.5,515.4 833.8,517.5" stroke="#000" stroke-width="1.9" fill="none" stroke-linejoin="round" stroke-linecap="round"/>
<path d="M791.2,532.5 L797.5,526.2 L830,515 L833.8,520 L806.2,540 L796.2,542.5 Z" stroke="#000" stroke-width="1.9" fill="#fff" stroke-linejoin="round" stroke-linecap="round"/>
<ellipse cx="800.5" cy="533.8" rx="5" ry="5" transform="rotate(0 800.5 533.8)" stroke="#000" stroke-width="1.9" fill="#fff"/>
<path d="M840,508.8 L852.5,503.8 L855,511.2 L842.5,515 Z" stroke="#000" stroke-width="1.9" fill="#fff" stroke-linejoin="round" stroke-linecap="round"/>
<ellipse cx="856.2" cy="502.5" rx="9" ry="10" transform="rotate(0 856.2 502.5)" stroke="#000" stroke-width="1.9" fill="#fff"/>
<path d="M790,541.2 L810,586.2" stroke="#000" stroke-width="1.9" fill="none" stroke-linejoin="round" stroke-linecap="round"/>
<path d="M775,592.5 L895,533.8" stroke="#000" stroke-width="1.9" fill="none" stroke-linejoin="round" stroke-linecap="round"/>
<path d="M828.8,547.5 C829.8,546.7 832.7,543.1 835,542.5 C837.3,541.9 839.6,542.1 842.5,543.8 C845.4,545.4 850.8,551 852.5,552.5" stroke="#000" stroke-width="1.9" fill="none" stroke-linejoin="round" stroke-linecap="round"/>
<path d="M828.8,547.5 L832.5,560" stroke="#000" stroke-width="1.9" fill="none" stroke-linejoin="round" stroke-linecap="round"/>
<path d="M900,503.8 C902.1,503.3 909.2,500.6 912.5,501.2 C915.8,501.9 919.2,505.6 920,507.5 C920.8,509.4 917.9,511.7 917.5,512.5" stroke="#000" stroke-width="1.9" fill="none" stroke-linejoin="round" stroke-linecap="round"/>
<path d="M872.5,512.5 C875,512.1 883.3,511.2 887.5,510 C891.7,508.8 895.8,505.8 897.5,505" stroke="#000" stroke-width="1.9" fill="none" stroke-linejoin="round" stroke-linecap="round"/>
<path d="M915,516.2 C917.9,514.4 925.8,506.5 932.5,505 C939.2,503.5 948.8,502.5 955,507.5 C961.2,512.5 967.1,527.1 970,535 C972.9,542.9 972.1,551.7 972.5,555" stroke="#000" stroke-width="1.9" fill="none" stroke-linejoin="round" stroke-linecap="round"/>
<path d="M920,532.5 C923.3,531.7 934.2,528.3 940,527.5 C945.8,526.7 952.1,525.8 955,527.5 C957.9,529.2 957.1,535.8 957.5,537.5" stroke="#000" stroke-width="1.9" fill="none" stroke-linejoin="round" stroke-linecap="round"/>
<path d="M930,545 C933.3,544.6 945,541.2 950,542.5 C955,543.8 957.9,549.2 960,552.5 C962.1,555.8 962.1,560.8 962.5,562.5" stroke="#000" stroke-width="1.9" fill="none" stroke-linejoin="round" stroke-linecap="round"/>
<path d="M932.5,565 C933.8,563.3 936.7,556.2 940,555 C943.3,553.8 947.5,556.2 952.5,557.5 C957.5,558.8 965,560.8 970,562.5 C975,564.2 980.8,563.3 982.5,567.5 C984.2,571.7 983.3,582.1 980,587.5 C976.7,592.9 968.3,597.9 962.5,600 C956.7,602.1 949.6,602.1 945,600 C940.4,597.9 937.1,593.3 935,587.5 C932.9,581.7 932.9,568.8 932.5,565" stroke="#000" stroke-width="1.9" fill="none" stroke-linejoin="round" stroke-linecap="round"/>
<path d="M930,605 C931.7,603.8 935.8,598.3 940,597.5 C944.2,596.7 952.1,597.1 955,600 C957.9,602.9 959.2,611.2 957.5,615 C955.8,618.8 949.2,622.1 945,622.5 C940.8,622.9 934.6,618.3 932.5,617.5" stroke="#000" stroke-width="1.9" fill="none" stroke-linejoin="round" stroke-linecap="round"/>
<path d="M927.5,557.5 C928.3,562.9 932.1,582.5 932.5,590 C932.9,597.5 932.5,597.9 930,602.5 C927.5,607.1 919.2,611.7 917.5,617.5 C915.8,623.3 919.6,634.2 920,637.5" stroke="#000" stroke-width="1.9" fill="none" stroke-linejoin="round" stroke-linecap="round"/>
<path d="M930,640 L975,620" stroke="#000" stroke-width="1.9" fill="none" stroke-linejoin="round" stroke-linecap="round"/>
<path d="M935,642.5 L980,622.5" stroke="#000" stroke-width="1.9" fill="none" stroke-linejoin="round" stroke-linecap="round"/>
<path d="M967.5,605 C968.8,606.7 973.3,612.5 975,615 C976.7,617.5 977.1,619.2 977.5,620" stroke="#000" stroke-width="1.9" fill="none" stroke-linejoin="round" stroke-linecap="round"/>
<path d="M703.8,630 C704.8,628.8 706.5,625 710,622.5 C713.5,620 720,615.6 725,615 C730,614.4 735,620.8 740,618.8 C745,616.7 750,606 755,602.5 C760,599 766.2,599.2 770,597.5 C773.8,595.8 776.2,593.3 777.5,592.5" stroke="#000" stroke-width="1.9" fill="none" stroke-linejoin="round" stroke-linecap="round"/>
<path d="M703.8,630 C704.4,631.7 707.7,637.5 707.5,640 C707.3,642.5 702.5,642.9 702.5,645 C702.5,647.1 704.2,651.7 707.5,652.5 C710.8,653.3 720,650.4 722.5,650" stroke="#000" stroke-width="1.9" fill="none" stroke-linejoin="round" stroke-linecap="round"/>
<path d="M717.5,650 C718.3,654.6 718.8,672.1 722.5,677.5 C726.2,682.9 734.2,683.8 740,682.5 C745.8,681.2 754.2,674.2 757.5,670 C760.8,665.8 761.7,660.4 760,657.5 C758.3,654.6 751.7,652.9 747.5,652.5 C743.3,652.1 737.1,654.6 735,655" stroke="#000" stroke-width="1.9" fill="none" stroke-linejoin="round" stroke-linecap="round"/>
<path d="M725,652.5 C727.1,656.2 732.5,671.2 737.5,675 C742.5,678.8 752.1,675 755,675" stroke="#000" stroke-width="1.9" fill="none" stroke-linejoin="round" stroke-linecap="round"/>
<path d="M721.2,670 C721,675.8 718.1,694.2 720,705 C721.9,715.8 728.3,727.5 732.5,735 C736.7,742.5 742.9,747.5 745,750" stroke="#000" stroke-width="1.9" fill="none" stroke-linejoin="round" stroke-linecap="round"/>
<path d="M740,680 C740.4,684.2 739.2,697.1 742.5,705 C745.8,712.9 757.1,723.8 760,727.5" stroke="#000" stroke-width="1.9" fill="none" stroke-linejoin="round" stroke-linecap="round"/>
<path d="M762.5,587.5 C763.8,587.9 767.1,590.4 770,590 C772.9,589.6 775,586.2 780,585 C785,583.8 795.4,581.7 800,582.5 C804.6,583.3 806.7,587.5 807.5,590 C808.3,592.5 807.1,595.8 805,597.5 C802.9,599.2 798.3,600.4 795,600 C791.7,599.6 786.7,595.8 785,595" stroke="#000" stroke-width="1.9" fill="none" stroke-linejoin="round" stroke-linecap="round"/>
<path d="M738.8,607.5 C741.5,606.2 750.2,600.8 755,600 C759.8,599.2 765.4,602.1 767.5,602.5" stroke="#000" stroke-width="1.9" fill="none" stroke-linejoin="round" stroke-linecap="round"/>
<path d="M800,600 C801.7,603.3 809.2,614.2 810,620 C810.8,625.8 806.7,631.7 805,635 C803.3,638.3 800.8,639.2 800,640" stroke="#000" stroke-width="1.9" fill="none" stroke-linejoin="round" stroke-linecap="round"/>
<path d="M790,663.8 L917.5,590" stroke="#000" stroke-width="1.9" fill="none" stroke-linejoin="round" stroke-linecap="round"/>
<path d="M740,680 L790,663.8" stroke="#000" stroke-width="1.9" fill="none" stroke-linejoin="round" stroke-linecap="round"/>
<path d="M822.5,615 C824.6,614.2 832.3,608.3 835,610 C837.7,611.7 842.9,616.7 838.8,625 C834.6,633.3 814.8,654.2 810,660" stroke="#000" stroke-width="1.9" fill="none" stroke-linejoin="round" stroke-linecap="round"/>
<path d="M847.5,607.5 C850.2,607.5 861.9,604.2 863.8,607.5 C865.6,610.8 862.7,621.2 858.8,627.5 C854.8,633.8 843.1,642.1 840,645" stroke="#000" stroke-width="1.9" fill="none" stroke-linejoin="round" stroke-linecap="round"/>
<path d="M790,665 C790.8,670 792.5,687.9 795,695 C797.5,702.1 803.3,705.4 805,707.5" stroke="#000" stroke-width="1.9" fill="none" stroke-linejoin="round" stroke-linecap="round"/>
<path d="M823.8,645 C824,650 822.7,667.9 825,675 C827.3,682.1 835.4,685.4 837.5,687.5" stroke="#000" stroke-width="1.9" fill="none" stroke-linejoin="round" stroke-linecap="round"/>
<path d="M860,627.5 C859.6,631.7 855.4,646.2 857.5,652.5 C859.6,658.8 870,662.9 872.5,665" stroke="#000" stroke-width="1.9" fill="none" stroke-linejoin="round" stroke-linecap="round"/>
<path d="M892.5,605 C892.5,607.5 889.6,615 892.5,620 C895.4,625 907.1,632.5 910,635" stroke="#000" stroke-width="1.9" fill="none" stroke-linejoin="round" stroke-linecap="round"/>
<path d="M882.5,690 C883.8,693.3 889.6,705.4 890,710 C890.4,714.6 883.8,716.7 885,717.5 C886.2,718.3 894.2,717.9 897.5,715 C900.8,712.1 903.8,702.5 905,700" stroke="#000" stroke-width="1.9" fill="none" stroke-linejoin="round" stroke-linecap="round"/>
<path d="M830,717.5 L855,735 L870,730" stroke="#000" stroke-width="1.9" fill="none" stroke-linejoin="round" stroke-linecap="round"/>
<path d="M900,670 C900.8,671.2 901.7,677.5 905,677.5 C908.3,677.5 915.8,672.1 920,670 C924.2,667.9 925.8,667.5 930,665 C934.2,662.5 942.5,656.7 945,655" stroke="#000" stroke-width="1.9" fill="none" stroke-linejoin="round" stroke-linecap="round"/>
<path d="M912.5,640 C915.4,639.2 925,632.5 930,635 C935,637.5 938.3,647.9 942.5,655 C946.7,662.1 951.2,675.8 955,677.5 C958.8,679.2 962.9,670 965,665 C967.1,660 969.2,652.5 967.5,647.5 C965.8,642.5 957.1,637.1 955,635" stroke="#000" stroke-width="1.9" fill="none" stroke-linejoin="round" stroke-linecap="round"/>
<path d="M945,655 L957.5,650 L965,665" stroke="#000" stroke-width="1.9" fill="none" stroke-linejoin="round" stroke-linecap="round"/>
<path d="M725,760 C727.5,758.3 735,753.3 740,750 C745,746.7 750.4,744.2 755,740 C759.6,735.8 763.3,727.9 767.5,725 C771.7,722.1 777.1,721.2 780,722.5 C782.9,723.8 784.2,730.8 785,732.5" stroke="#000" stroke-width="1.9" fill="none" stroke-linejoin="round" stroke-linecap="round"/>
<path d="M745,767.5 L805,730" stroke="#000" stroke-width="1.9" fill="none" stroke-linejoin="round" stroke-linecap="round"/>
<path d="M752.5,769 L810,732.5" stroke="#000" stroke-width="1.9" fill="none" stroke-linejoin="round" stroke-linecap="round"/>
<path d="M775,740 C775.8,742.5 777.5,752.1 780,755 C782.5,757.9 787.1,757.9 790,757.5 C792.9,757.1 796.2,753.3 797.5,752.5" stroke="#000" stroke-width="1.9" fill="none" stroke-linejoin="round" stroke-linecap="round"/>
<path d="M805,737.5 C809.2,736.7 820.8,732.9 830,732.5 C839.2,732.1 854.2,732.9 860,735 C865.8,737.1 865,739.3 865,745 C865,750.7 860.8,765 860,769" stroke="#000" stroke-width="1.9" fill="none" stroke-linejoin="round" stroke-linecap="round"/>
<path d="M960,662.5 C964,662.1 971.2,665.2 983.8,660 C996.2,654.8 1025.2,636.7 1035,631.2 C1044.8,625.8 1037.5,627.7 1042.5,627.5 C1047.5,627.3 1061.2,629.6 1065,630" stroke="#000" stroke-width="1.9" fill="none" stroke-linejoin="round" stroke-linecap="round"/>
<path d="M920,750 L1035,685" stroke="#000" stroke-width="1.9" fill="none" stroke-linejoin="round" stroke-linecap="round"/>
<path d="M987.5,765 C989.2,763.3 989.2,759.2 997.5,755 C1005.8,750.8 1026.2,745.8 1037.5,740 C1048.8,734.2 1060.4,723.3 1065,720" stroke="#000" stroke-width="1.9" fill="none" stroke-linejoin="round" stroke-linecap="round"/>
<path d="M1045,680 C1046.7,678.8 1051.7,674.2 1055,672.5 C1058.3,670.8 1063.3,670.4 1065,670" stroke="#000" stroke-width="1.9" fill="none" stroke-linejoin="round" stroke-linecap="round"/>
<path d="M1147.5,448.8 L1180,500" stroke="#000" stroke-width="2" fill="none" stroke-linejoin="round" stroke-linecap="round"/>
<text x="0" y="0" transform="translate(1072 607.5) scale(0.96 1)" font-family="Liberation Sans" font-size="34.5" font-weight="bold" text-anchor="start">14</text>
<path d="M1086.2,577.5 L1051.2,495" stroke="#000" stroke-width="2" fill="none" stroke-linejoin="round" stroke-linecap="round"/>
<text x="0" y="0" transform="translate(1125.5 646) scale(0.96 1)" font-family="Liberation Sans" font-size="34.5" font-weight="bold" text-anchor="start">12</text>
<path d="M1141.2,613.8 L1103.8,532.5" stroke="#000" stroke-width="2" fill="none" stroke-linejoin="round" stroke-linecap="round"/>
<path d="M1212.5,506.2 C1215,505.4 1223.5,504.4 1227.5,501.2 C1231.5,498.1 1234.8,489.8 1236.2,487.5" stroke="#000" stroke-width="8.4" fill="none" stroke-linecap="butt" stroke-linejoin="round"/>
<path d="M1212.5,506.2 C1215,505.4 1223.5,504.4 1227.5,501.2 C1231.5,498.1 1234.8,489.8 1236.2,487.5" stroke="#fff" stroke-width="3.6" fill="none" stroke-linecap="butt" stroke-linejoin="round"/>
<path d="M1177.5,485 L1190,477.5 L1205,485 L1212.5,495 L1212.5,505 L1205,512.5 L1192.5,510 L1180,505 Z" stroke="#000" stroke-width="2.4" fill="#fff" stroke-linejoin="round" stroke-linecap="round"/>
<path d="M1190,477.5 L1192.5,505 L1212.5,505" stroke="#000" stroke-width="2.4" fill="none" stroke-linejoin="round" stroke-linecap="round"/>
<ellipse cx="1170" cy="528.8" rx="7" ry="9" transform="rotate(-20 1170 528.8)" stroke="#000" stroke-width="2.4" fill="#fff"/>
<ellipse cx="1168.8" cy="528.8" rx="2.5" ry="3" transform="rotate(0 1168.8 528.8)" stroke="#000" stroke-width="1.6" fill="#fff"/>
<text x="0" y="0" transform="translate(1178.8 531.2) scale(0.96 1)" font-family="Liberation Sans" font-size="9" font-weight="normal" text-anchor="start">1</text>
<path d="M1180,547.5 L1180,587.5 L1190,585" stroke="#000" stroke-width="2" fill="none" stroke-dasharray="9 6"/>
<path d="M1190,577.5 L1207.5,568.8 L1212.5,580 L1193.8,586.2 Z" stroke="#000" stroke-width="2.4" fill="#fff" stroke-linejoin="round" stroke-linecap="round"/>
<path d="M1193,575 L1196.2,585" stroke="#000" stroke-width="1.6" fill="none" stroke-linejoin="round" stroke-linecap="round"/>
<path d="M1197,573 L1200.2,583" stroke="#000" stroke-width="1.6" fill="none" stroke-linejoin="round" stroke-linecap="round"/>
<path d="M1201,571 L1204.2,581" stroke="#000" stroke-width="1.6" fill="none" stroke-linejoin="round" stroke-linecap="round"/>
<path d="M1205,569 L1208.2,579" stroke="#000" stroke-width="1.6" fill="none" stroke-linejoin="round" stroke-linecap="round"/>
<path d="M1202.5,565 L1212.5,560 L1223.8,562.5 L1226.2,572.5 L1222.5,582.5 L1212.5,585 L1205,580 Z" stroke="#000" stroke-width="2.4" fill="#fff" stroke-linejoin="round" stroke-linecap="round"/>
<ellipse cx="1218.8" cy="572.5" rx="6" ry="8" transform="rotate(0 1218.8 572.5)" stroke="#000" stroke-width="2.4" fill="#fff"/>
<path d="M1225,575 L1272.5,652.5" stroke="#000" stroke-width="2" fill="none" stroke-linejoin="round" stroke-linecap="round"/>
<text x="0" y="0" transform="translate(1272 677.5) scale(1.052 1)" font-family="Liberation Sans" font-size="24" font-weight="normal" text-anchor="start" stroke="#000" stroke-width="0.8">5.0 ± 1.0 N·m</text>
<text x="0" y="0" transform="translate(1272 708.5) scale(1.08 1)" font-family="Liberation Sans" font-size="24" font-weight="normal" text-anchor="start" stroke="#000" stroke-width="0.8">44 ± 9 in-lb</text>
<ellipse cx="1092" cy="470.5" rx="8" ry="7" transform="rotate(0 1092 470.5)" stroke="#000" stroke-width="2.4" fill="#fff"/>
<path d="M1091.2,467.5 L1092.5,458.8 L1098.8,457.5 L1098.8,467.5 Z" stroke="#000" stroke-width="2.4" fill="#fff" stroke-linejoin="round" stroke-linecap="round"/>
<path d="M1080,520 L1092.5,511.2 L1110,523.8 L1111.2,530 L1102.5,533.8 L1082.5,525 Z" stroke="#000" stroke-width="2.4" fill="#fff" stroke-linejoin="round" stroke-linecap="round"/>
<path d="M1082.5,525 L1100,530 L1102.5,533.8" stroke="#000" stroke-width="2.4" fill="none" stroke-linejoin="round" stroke-linecap="round"/>
<path d="M1045,472.5 L1062.5,466.2 L1077.5,472.5 L1078.8,487.5 L1067.5,500 L1057.5,495 L1047.5,485 Z" stroke="#000" stroke-width="2.4" fill="#fff" stroke-linejoin="round" stroke-linecap="round"/>
<path d="M1047.5,480 L1062.5,477.5 L1077.5,472.5" stroke="#000" stroke-width="2.4" fill="none" stroke-linejoin="round" stroke-linecap="round"/>
<path d="M1062.5,477.5 L1063.8,496.2" stroke="#000" stroke-width="2.4" fill="none" stroke-linejoin="round" stroke-linecap="round"/>
<text x="0" y="0" transform="translate(539.5 586.2) scale(0.96 1)" font-family="Liberation Sans" font-size="34.5" font-weight="bold" text-anchor="start">7</text>
<path d="M500,500 L537.5,557.5" stroke="#000" stroke-width="2" fill="none" stroke-linejoin="round" stroke-linecap="round"/>
<text x="0" y="0" transform="translate(637 621.2) scale(0.96 1)" font-family="Liberation Sans" font-size="34.5" font-weight="bold" text-anchor="start">3</text>
<path d="M593.8,525 L636.2,593.8" stroke="#000" stroke-width="2" fill="none" stroke-linejoin="round" stroke-linecap="round"/>
<path d="M671.2,520 L705,571.2" stroke="#000" stroke-width="2" fill="none" stroke-linejoin="round" stroke-linecap="round"/>
<path d="M625,405 C621.2,408.3 608.3,416.7 602.5,425 C596.7,433.3 592.3,444.6 590,455 C587.7,465.4 589,482.1 588.8,487.5" stroke="#000" stroke-width="10.4" fill="none" stroke-linecap="butt" stroke-linejoin="round"/>
<path d="M625,405 C621.2,408.3 608.3,416.7 602.5,425 C596.7,433.3 592.3,444.6 590,455 C587.7,465.4 589,482.1 588.8,487.5" stroke="#fff" stroke-width="5.6" fill="none" stroke-linecap="butt" stroke-linejoin="round"/>
<path d="M581.2,500 L586.2,488.8 L596.2,487.5 L600,497.5 L606.2,507.5 L603.8,518.8 L593.8,525 L582.5,515 Z" stroke="#000" stroke-width="2.4" fill="#fff" stroke-linejoin="round" stroke-linecap="round"/>
<path d="M582.5,502.5 L600,497.5" stroke="#000" stroke-width="2.4" fill="none" stroke-linejoin="round" stroke-linecap="round"/>
<path d="M586.2,512.5 L605,507.5" stroke="#000" stroke-width="2.4" fill="none" stroke-linejoin="round" stroke-linecap="round"/>
<path d="M622.5,460 L617.5,468.8" stroke="#000" stroke-width="9.4" fill="none" stroke-linecap="butt" stroke-linejoin="round"/>
<path d="M622.5,460 L617.5,468.8" stroke="#fff" stroke-width="4.6" fill="none" stroke-linecap="butt" stroke-linejoin="round"/>
<path d="M607.5,470 L620,466.2 L630,475 L635,493.8 L612.5,501.2 L610,492.5 Z" stroke="#000" stroke-width="2.4" fill="#fff" stroke-linejoin="round" stroke-linecap="round"/>
<path d="M617.5,472.5 L620,497.5" stroke="#000" stroke-width="2.4" fill="none" stroke-linejoin="round" stroke-linecap="round"/>
<path d="M620,463.8 C623.3,465.6 633.8,470.4 640,475 C646.2,479.6 654.6,488.5 657.5,491.2" stroke="#000" stroke-width="9.4" fill="none" stroke-linecap="butt" stroke-linejoin="round"/>
<path d="M620,463.8 C623.3,465.6 633.8,470.4 640,475 C646.2,479.6 654.6,488.5 657.5,491.2" stroke="#fff" stroke-width="4.6" fill="none" stroke-linecap="butt" stroke-linejoin="round"/>
<path d="M645,500 L652.5,491.2 L662.5,486.2 L672.5,492.5 L681.2,502.5 L677.5,515 L662.5,520 L650,512.5 Z" stroke="#000" stroke-width="2.4" fill="#fff" stroke-linejoin="round" stroke-linecap="round"/>
<path d="M650,502.5 L672.5,505 L677.5,515" stroke="#000" stroke-width="2.4" fill="none" stroke-linejoin="round" stroke-linecap="round"/>
<path d="M790,445 L797.5,432.5 L810,423.8 L825,425 L831.2,435 L830,450 L815,453.8 L800,455 L791.2,452.5 Z" stroke="#000" stroke-width="2.4" fill="#fff" stroke-linejoin="round" stroke-linecap="round"/>
<path d="M810,423.8 L812.5,452.5" stroke="#000" stroke-width="2.4" fill="none" stroke-linejoin="round" stroke-linecap="round"/>
<path d="M797.5,440 L810,437.5" stroke="#000" stroke-width="2.4" fill="none" stroke-linejoin="round" stroke-linecap="round"/>
<path d="M715,775 C720.8,775 735.8,771.7 750,775 C764.2,778.3 783.3,787.5 800,795 C816.7,802.5 833.3,809.6 850,820 C866.7,830.4 887.5,847.5 900,857.5 C912.5,867.5 920,871.2 925,880 C930,888.8 929.2,905 930,910" stroke="#000" stroke-width="1.9" fill="none" stroke-linejoin="round" stroke-linecap="round"/>
<path d="M732.5,796.2 C730.4,797.3 724.6,799 720,802.5 C715.4,806 708.1,811.7 705,817.5 C701.9,823.3 701.2,829.6 701.2,837.5 C701.2,845.4 702.7,855.4 705,865 C707.3,874.6 712.5,887.5 715,895 C717.5,902.5 719.2,907.5 720,910" stroke="#000" stroke-width="1.9" fill="none" stroke-linejoin="round" stroke-linecap="round"/>
<path d="M965,662.5 C968.3,662.7 975,667.1 985,663.8 C995,660.4 1016.7,646.5 1025,642.5 C1033.3,638.5 1031.7,642.3 1035,640 C1038.3,637.7 1041.7,630.4 1045,628.8 C1048.3,627.1 1050,627.7 1055,630 C1060,632.3 1069.8,639.2 1075,642.5 C1080.2,645.8 1084.4,648.8 1086.2,650" stroke="#000" stroke-width="1.9" fill="none" stroke-linejoin="round" stroke-linecap="round"/>
<path d="M920,750 L1035,685" stroke="#000" stroke-width="1.9" fill="none" stroke-linejoin="round" stroke-linecap="round"/>
<path d="M877.5,776.2 L910,757.5" stroke="#000" stroke-width="1.9" fill="none" stroke-linejoin="round" stroke-linecap="round"/>
<path d="M1045,680 L1060,671.2" stroke="#000" stroke-width="1.9" fill="none" stroke-linejoin="round" stroke-linecap="round"/>
<path d="M870,830 C872.5,829.2 880,826.7 885,825 C890,823.3 895,822.1 900,820 C905,817.9 906.7,817.1 915,812.5 C923.3,807.9 929.6,803.3 950,792.5 C970.4,781.7 1014.8,760.2 1037.5,747.5 C1060.2,734.8 1078.1,721.5 1086.2,716.2" stroke="#000" stroke-width="1.9" fill="none" stroke-linejoin="round" stroke-linecap="round"/>
<path d="M900,820 C901.2,816.2 904.2,800.8 907.5,797.5 C910.8,794.2 916.7,798.8 920,800 C923.3,801.2 926.2,804.2 927.5,805" stroke="#000" stroke-width="1.9" fill="none" stroke-linejoin="round" stroke-linecap="round"/>
<path d="M926.2,800 C927.7,798.8 931.5,793.3 935,792.5 C938.5,791.7 945.4,794.6 947.5,795" stroke="#000" stroke-width="1.9" fill="none" stroke-linejoin="round" stroke-linecap="round"/>
<path d="M987.5,765 C989.2,763.5 993.8,757.3 997.5,756.2 C1001.2,755.2 1007.9,758.3 1010,758.8" stroke="#000" stroke-width="1.9" fill="none" stroke-linejoin="round" stroke-linecap="round"/>
<path d="M1050,730 C1051.7,728.8 1056.7,723.3 1060,722.5 C1063.3,721.7 1068.3,724.6 1070,725" stroke="#000" stroke-width="1.9" fill="none" stroke-linejoin="round" stroke-linecap="round"/>
<path d="M925,805 L1086.2,718.8" stroke="#000" stroke-width="1.9" fill="none" stroke-linejoin="round" stroke-linecap="round"/>
<path d="M942.5,907.5 L1086.2,825" stroke="#000" stroke-width="1.9" fill="none" stroke-linejoin="round" stroke-linecap="round"/>
<path d="M1007.5,910 L1086.2,865" stroke="#000" stroke-width="1.9" fill="none" stroke-linejoin="round" stroke-linecap="round"/>
<path d="M905,825 C904.2,826.2 900.8,830.4 900,832.5 C899.2,834.6 900,836.7 900,837.5" stroke="#000" stroke-width="1.9" fill="none" stroke-linejoin="round" stroke-linecap="round"/>
<path d="M886.2,827.5 L887.5,837.5" stroke="#000" stroke-width="1.9" fill="none" stroke-linejoin="round" stroke-linecap="round"/>
<path d="M937.5,765 L950,770 L950,790" stroke="#000" stroke-width="1.9" fill="none" stroke-linejoin="round" stroke-linecap="round"/>
<path d="M807.5,792.5 L825,797.5 L840,795 L862.5,785" stroke="#000" stroke-width="1.9" fill="none" stroke-linejoin="round" stroke-linecap="round"/>
<path d="M720,773.3 C722.8,769.5 727.5,757.9 736.9,750.7 C746.4,743.4 764.3,737.5 776.5,729.9 C788.7,722.4 801.3,712.4 810.4,705.5 C819.5,698.6 821.1,695.7 831.1,688.5 C841.2,681.3 857.8,669.4 870.7,662.1 C883.5,654.9 902,648 908.3,645.2" stroke="#000" stroke-width="1.9" fill="none" stroke-linejoin="round" stroke-linecap="round"/>
<path d="M748.2,756.3 L804.7,724.3 L915.9,650.8" stroke="#000" stroke-width="1.9" fill="none" stroke-linejoin="round" stroke-linecap="round"/>
<path d="M750.1,760.1 L808.5,729.9 L919.6,656.5" stroke="#000" stroke-width="1.9" fill="none" stroke-linejoin="round" stroke-linecap="round"/>
<path d="M785.9,733.7 L898.9,675.3 L944.1,654.6" stroke="#000" stroke-width="1.9" fill="none" stroke-linejoin="round" stroke-linecap="round"/>
<path d="M776.5,750.7 C785.9,746 812.9,733.4 833,722.4 C853.1,711.4 878.2,694.5 897,684.7 C915.9,675 937.8,667.5 946,664" stroke="#000" stroke-width="1.9" fill="none" stroke-linejoin="round" stroke-linecap="round"/>
<path d="M780.3,765.7 L833,739.4 L885.7,713" stroke="#000" stroke-width="1.9" fill="none" stroke-linejoin="round" stroke-linecap="round"/>
<path d="M757.7,769.5 L810.4,743.1" stroke="#000" stroke-width="1.9" fill="none" stroke-linejoin="round" stroke-linecap="round"/>
<path d="M882,692.3 L893.3,709.2 L885.7,718.6" stroke="#000" stroke-width="1.9" fill="none" stroke-linejoin="round" stroke-linecap="round"/>
<path d="M897,684.7 L908.3,701.7 L910.2,713" stroke="#000" stroke-width="1.9" fill="none" stroke-linejoin="round" stroke-linecap="round"/>
<path d="M910.2,639.5 L917.7,635.8 L929,664 L921.5,669.7 Z" stroke="#000" stroke-width="1.9" fill="#fff" stroke-linejoin="round" stroke-linecap="round"/>
<path d="M930.9,637.7 C932.2,636.7 933.4,630.4 938.5,632 C943.5,633.6 956.3,642.1 961.1,647.1 C965.8,652.1 966.1,658.1 966.7,662.1 C967.3,666.2 968,668.7 964.8,671.6 C961.7,674.4 950.7,677.8 947.9,679.1" stroke="#000" stroke-width="1.9" fill="none" stroke-linejoin="round" stroke-linecap="round"/>
<path d="M936.6,632 L972.4,616.9" stroke="#000" stroke-width="1.9" fill="none" stroke-linejoin="round" stroke-linecap="round"/>
<path d="M940.3,637.7 L976.1,620.7" stroke="#000" stroke-width="1.9" fill="none" stroke-linejoin="round" stroke-linecap="round"/>
<path d="M917.7,618.8 C919.6,616.3 924.3,606.6 929,603.8 C933.7,600.9 938.8,602.5 946,601.9 C953.2,601.3 967,597.5 972.4,600 C977.7,602.5 977.1,614.1 978,616.9" stroke="#000" stroke-width="1.9" fill="none" stroke-linejoin="round" stroke-linecap="round"/>
<path d="M938.5,652.7 C941.6,652.1 952.9,647.1 957.3,649 C961.7,650.8 963.6,661.5 964.8,664" stroke="#000" stroke-width="1.9" fill="none" stroke-linejoin="round" stroke-linecap="round"/>
<path d="M919.6,748.8 L1011,697.9" stroke="#000" stroke-width="1.9" fill="none" stroke-linejoin="round" stroke-linecap="round"/>
<path d="M876.3,777 L910.2,756.3" stroke="#000" stroke-width="1.9" fill="none" stroke-linejoin="round" stroke-linecap="round"/>
<path d="M808.5,792.1 C812.6,793 824.2,799 833,797.7 C841.8,796.5 856.5,786.8 861.2,784.6" stroke="#000" stroke-width="1.9" fill="none" stroke-linejoin="round" stroke-linecap="round"/>
<path d="M738.8,671.6 C742.6,669.1 755.2,657.4 761.4,656.5 C767.7,655.6 775.2,663.4 776.5,665.9 C777.8,668.4 770.2,670.6 769,671.6" stroke="#000" stroke-width="1.9" fill="none" stroke-linejoin="round" stroke-linecap="round"/>
<path d="M757.7,703.6 L769,675.3 L806.6,654.6" stroke="#000" stroke-width="1.9" fill="none" stroke-linejoin="round" stroke-linecap="round"/>
<path d="M763.3,729.9 C764.3,728.4 766.8,722.1 769,720.5 C771.2,719 774.9,718.6 776.5,720.5 C778.1,722.4 778.1,729.9 778.4,731.8" stroke="#000" stroke-width="1.9" fill="none" stroke-linejoin="round" stroke-linecap="round"/>
<path d="M772.7,745 C773,743.4 772.7,737.5 774.6,735.6 C776.5,733.7 782.5,734 784,733.7" stroke="#000" stroke-width="1.9" fill="none" stroke-linejoin="round" stroke-linecap="round"/>
<path d="M720,675.3 L720,713 L736.9,750.7" stroke="#000" stroke-width="1.9" fill="none" stroke-linejoin="round" stroke-linecap="round"/>
<path d="M821.7,618.8 C823.6,617.6 830.2,611.3 833,611.3 C835.8,611.3 838.6,615.1 838.6,618.8 C838.6,622.6 837.7,627 833,633.9 C828.3,640.8 814.2,655.9 810.4,660.3" stroke="#000" stroke-width="1.9" fill="none" stroke-linejoin="round" stroke-linecap="round"/>
<path d="M846.2,615.1 C847.7,613.2 852.8,605 855.6,603.8 C858.4,602.5 862.5,604.7 863.1,607.5 C863.8,610.4 863.1,614.1 859.4,620.7 C855.6,627.3 843.7,642.7 840.5,647.1" stroke="#000" stroke-width="1.9" fill="none" stroke-linejoin="round" stroke-linecap="round"/>
<path d="M789.7,664 C790,666.5 789.1,672.2 791.6,679.1 C794.1,686 802.5,701.1 804.7,705.5" stroke="#000" stroke-width="1.9" fill="none" stroke-linejoin="round" stroke-linecap="round"/>
<path d="M821.7,647.1 C822.3,651.5 823,666.5 825.5,673.4 C828,680.4 834.9,686 836.8,688.5" stroke="#000" stroke-width="1.9" fill="none" stroke-linejoin="round" stroke-linecap="round"/>
<path d="M855.6,628.2 C855.9,631.4 855,641.7 857.5,647.1 C860,652.4 868.5,658.1 870.7,660.3" stroke="#000" stroke-width="1.9" fill="none" stroke-linejoin="round" stroke-linecap="round"/>
<path d="M891.4,607.5 C891.7,610 889.2,617.9 893.3,622.6 C897.3,627.3 912.1,633.6 915.9,635.8" stroke="#000" stroke-width="1.9" fill="none" stroke-linejoin="round" stroke-linecap="round"/>
<path d="M802.5,745 L817.5,737.5 L840,730 L860,737.5 L866.2,747.5 L860,760 L855,770 L820,772.5 L815,762.5 L802.5,755 Z" stroke="#000" stroke-width="1.9" fill="#fff" stroke-linejoin="round" stroke-linecap="round"/>
<path d="M715,780 C716.7,776.7 722.1,764.2 725,760 C727.9,755.8 729.2,756.7 732.5,755 C735.8,753.3 742.9,750.8 745,750" stroke="#000" stroke-width="1.9" fill="none" stroke-linejoin="round" stroke-linecap="round"/>
<path d="M717.5,775 C719.6,774.2 726.2,770.4 730,770 C733.8,769.6 738.3,772.1 740,772.5" stroke="#000" stroke-width="1.9" fill="none" stroke-linejoin="round" stroke-linecap="round"/>
<path d="M720,645 C719.2,648.3 714.6,657.5 715,665 C715.4,672.5 720,681.7 722.5,690 C725,698.3 727.1,706.7 730,715 C732.9,723.3 738.3,735.8 740,740" stroke="#000" stroke-width="1.9" fill="none" stroke-linejoin="round" stroke-linecap="round"/>
<path d="M740,660 C740.4,665.8 739.6,685 742.5,695 C745.4,705 755,715.8 757.5,720" stroke="#000" stroke-width="1.9" fill="none" stroke-linejoin="round" stroke-linecap="round"/>
<path d="M790,665 C790.4,667.9 789.2,675.4 792.5,682.5 C795.8,689.6 807.1,703.3 810,707.5" stroke="#000" stroke-width="1.9" fill="none" stroke-linejoin="round" stroke-linecap="round"/>
<path d="M822.5,645 C822.9,649.2 822.1,662.5 825,670 C827.9,677.5 837.5,686.7 840,690" stroke="#000" stroke-width="1.9" fill="none" stroke-linejoin="round" stroke-linecap="round"/>
<path d="M857.5,630 C857.9,633.3 857.1,644.2 860,650 C862.9,655.8 872.5,662.5 875,665" stroke="#000" stroke-width="1.9" fill="none" stroke-linejoin="round" stroke-linecap="round"/>
<path d="M717.5,652.5 C718.8,651.2 721.7,645.8 725,645 C728.3,644.2 735,644.2 737.5,647.5 C740,650.8 740,659.6 740,665 C740,670.4 740,678.3 737.5,680 C735,681.7 728.3,678.3 725,675 C721.7,671.7 718.8,662.5 717.5,660" stroke="#000" stroke-width="1.9" fill="none" stroke-linejoin="round" stroke-linecap="round"/>
<path d="M920,635 C920.8,634.2 922.1,630.4 925,630 C927.9,629.6 935,628.3 937.5,632.5 C940,636.7 941.2,649.2 940,655 C938.8,660.8 933.3,665.8 930,667.5 C926.7,669.2 922.5,668.8 920,665 C917.5,661.2 915.8,648.3 915,645" stroke="#000" stroke-width="1.9" fill="none" stroke-linejoin="round" stroke-linecap="round"/>
<path d="M940,635 C943.3,635 955.4,631.7 960,635 C964.6,638.3 966.7,649.2 967.5,655 C968.3,660.8 965.4,667.5 965,670" stroke="#000" stroke-width="1.9" fill="none" stroke-linejoin="round" stroke-linecap="round"/>
<path d="M1065,725 C1070.2,722.1 1120.8,693.3 1127.5,690 C1134.2,686.7 1141,684.2 1145,685.5 C1149,686.8 1172.1,699.6 1175,705 C1177.9,710.4 1178.8,745.4 1180,750 C1181.2,754.6 1189.6,758.5 1190,760 C1190.4,761.5 1195.4,761.2 1185,767.5 C1174.6,773.8 1075,829.4 1065,835" stroke="#000" stroke-width="1.9" fill="none" stroke-linejoin="round" stroke-linecap="round"/>
<path d="M1127.5,690 L1065,730" stroke="#000" stroke-width="1.9" fill="none" stroke-linejoin="round" stroke-linecap="round"/>
<path d="M1177.5,710 C1178.5,710 1188.8,709.2 1190,710 C1191.2,710.8 1191.7,718.8 1192.5,720 C1193.3,721.2 1199.3,723.5 1200,725 C1200.7,726.5 1200,736.4 1201.2,737.5 C1202.5,738.6 1212.9,738.1 1215,738.8 C1217.1,739.4 1225.3,743.4 1226.2,745 C1227.2,746.6 1227.6,755.2 1226.2,757.5 C1224.9,759.8 1212.6,771.5 1210,772.5 C1207.4,773.5 1196.2,769 1195,770 C1193.8,771 1196.2,782.9 1195,785 C1193.8,787.1 1182.3,794 1180,795 C1177.7,796 1169.2,796.5 1167.5,797.5 C1165.8,798.5 1161.2,806.8 1160,807.5 C1158.8,808.2 1153.1,806.4 1152.5,806.2" stroke="#000" stroke-width="1.9" fill="none" stroke-linejoin="round" stroke-linecap="round"/>
<path d="M1065,872.5 C1070.8,869.2 1113.8,845.2 1122.5,840 C1131.2,834.8 1145.8,819.5 1152.5,820 C1159.2,820.5 1185.5,841 1190,845 C1194.5,849 1196.2,853.5 1197.5,860 C1198.8,866.5 1202,905 1202.5,910" stroke="#000" stroke-width="1.9" fill="none" stroke-linejoin="round" stroke-linecap="round"/>
<path d="M1155,807.5 L1155,820" stroke="#000" stroke-width="1.9" fill="none" stroke-linejoin="round" stroke-linecap="round"/>
<path d="M1065,637.5 C1067.1,638.8 1074.6,641.2 1077.5,645 C1080.4,648.8 1081.5,652.1 1082.5,660 C1083.5,667.9 1083.5,687.1 1083.8,692.5" stroke="#000" stroke-width="1.9" fill="none" stroke-linejoin="round" stroke-linecap="round"/>
<path d="M1072.5,682.5 L1095,695 L1110,697.5" stroke="#000" stroke-width="1.9" fill="none" stroke-linejoin="round" stroke-linecap="round"/>
<path d="M1087.5,700 L1087.5,710" stroke="#000" stroke-width="1.9" fill="none" stroke-linejoin="round" stroke-linecap="round"/>
<path d="M608.6,965.7 C608.5,964.6 607.4,956.9 607.9,954.3 C608.3,951.7 611.5,942.6 612.9,940 C614.2,937.4 620.4,930.3 621.4,928.6 C622.4,926.9 621.7,923.9 622.9,922.9 C624,921.8 631,918.3 632.9,917.9 C634.7,917.4 639,919.5 641.4,918.6 C643.9,917.6 655.3,910 657.1,908.6 C659,907.1 658.9,905.4 660,904.3 C661.1,903.1 666.9,897.6 668.6,897.1 C670.3,896.7 674.9,900.1 677.1,900 C679.4,899.9 687.7,896 691.4,895.7 C695.1,895.4 712,897 714.3,897.1" stroke="#000" stroke-width="1.9" fill="none" stroke-linejoin="round" stroke-linecap="round"/>
<path d="M641.4,920 C643.3,919.8 644,918.6 652.9,918.6 C661.7,918.6 687.4,919.8 694.3,920" stroke="#000" stroke-width="1.9" fill="none" stroke-linejoin="round" stroke-linecap="round"/>
<path d="M691.4,895.7 C694.3,896.2 704.5,897.4 708.6,898.6 C712.6,899.8 714.5,902.1 715.7,902.9" stroke="#000" stroke-width="1.9" fill="none" stroke-linejoin="round" stroke-linecap="round"/>
<path d="M640,1027.5 C643.3,1032.1 655,1048.5 660,1055 C665,1061.5 666.2,1065.4 670,1066.2 C673.8,1067.1 679.2,1064.4 682.5,1060 C685.8,1055.6 688.3,1045 690,1040 C691.7,1035 692.1,1031.7 692.5,1030" stroke="#000" stroke-width="1.9" fill="none" stroke-linejoin="round" stroke-linecap="round"/>
<path d="M650,1030 C652.5,1030.8 660,1035 665,1035 C670,1035 675.4,1030.6 680,1030 C684.6,1029.4 690.4,1031 692.5,1031.2" stroke="#000" stroke-width="1.9" fill="none" stroke-linejoin="round" stroke-linecap="round"/>
<ellipse cx="641" cy="991.5" rx="21.5" ry="32.5" transform="rotate(-28 641 991.5)" stroke="#000" stroke-width="1.9" fill="#fff"/>
<ellipse cx="633" cy="995" rx="21.5" ry="32.5" transform="rotate(-28 633 995)" stroke="#000" stroke-width="1.9" fill="#fff"/>
<ellipse cx="625" cy="998" rx="21.5" ry="32.5" transform="rotate(-28 625 998)" stroke="#000" stroke-width="1.9" fill="#fff"/>
<path d="M614.3,974.3 C616.4,974.5 622.9,972.9 627.1,975.7 C631.4,978.6 636.9,986 640,991.4 C643.1,996.9 645.2,1003.3 645.7,1008.6 C646.2,1013.8 643.3,1020.5 642.9,1022.9" stroke="#000" stroke-width="1.9" fill="none" stroke-linejoin="round" stroke-linecap="round"/>
<path d="M622.9,984.3 C621.9,985.7 617.6,989.5 617.1,992.9 C616.7,996.2 618.1,1001.4 620,1004.3 C621.9,1007.1 625.7,1009.3 628.6,1010 C631.4,1010.7 635.7,1008.8 637.1,1008.6" stroke="#000" stroke-width="1.9" fill="none" stroke-linejoin="round" stroke-linecap="round"/>
<path d="M620,965.7 L608.6,980" stroke="#000" stroke-width="1.9" fill="none" stroke-linejoin="round" stroke-linecap="round"/>
<path d="M710,880 C711.7,884.2 717.5,896.7 720,905 C722.5,913.3 725,923.3 725,930 C725,936.7 720.8,940.8 720,945 C719.2,949.2 721.7,951.2 720,955 C718.3,958.8 710.8,964.2 710,967.5 C709.2,970.8 714.2,973.8 715,975" stroke="#000" stroke-width="1.9" fill="none" stroke-linejoin="round" stroke-linecap="round"/>
<path d="M690,925 C689.6,927.1 686.2,933.3 687.5,937.5 C688.8,941.7 694.6,947.1 697.5,950 C700.4,952.9 704.2,952.1 705,955 C705.8,957.9 702.9,965.4 702.5,967.5" stroke="#000" stroke-width="1.9" fill="none" stroke-linejoin="round" stroke-linecap="round"/>
<path d="M670,932.5 L690,930" stroke="#000" stroke-width="1.9" fill="none" stroke-linejoin="round" stroke-linecap="round"/>
<path d="M720,942.5 L735,937.5 L765,955 L780,962.5 L822.5,990 L850,1005 L852.5,1050 L820,1042.5" stroke="#000" stroke-width="1.9" fill="none" stroke-linejoin="round" stroke-linecap="round"/>
<path d="M707.5,967.5 L765,992.5 L790,1005 L815,1010 L845,1010 L845,1040" stroke="#000" stroke-width="1.9" fill="none" stroke-linejoin="round" stroke-linecap="round"/>
<path d="M720,927.5 L720,950 L765,972.5" stroke="#000" stroke-width="1.9" fill="none" stroke-linejoin="round" stroke-linecap="round"/>
<path d="M762.5,992.5 L790,1000 L822.5,1007.5 L822.5,1015 L807.5,1027.5 L790,1022.5 L765,997.5 Z" stroke="#000" stroke-width="1.9" fill="#fff" stroke-linejoin="round" stroke-linecap="round"/>
<path d="M767.5,995.0 L767.5,950.0 Q771.25,940.0 775.0,950.0 L775.0,995.0" stroke="#000" stroke-width="1.9" fill="#fff" stroke-linejoin="round" stroke-linecap="round"/>
<path d="M787.5,997.5 L787.5,955.0 Q791.25,945.0 795.0,955.0 L795.0,997.5" stroke="#000" stroke-width="1.9" fill="#fff" stroke-linejoin="round" stroke-linecap="round"/>
<path d="M800.0,1010.0 L800.0,965.0 Q803.75,955.0 807.5,965.0 L807.5,1010.0" stroke="#000" stroke-width="1.9" fill="#fff" stroke-linejoin="round" stroke-linecap="round"/>
<ellipse cx="743.8" cy="1041.2" rx="48" ry="56" transform="rotate(-25 743.8 1041.2)" stroke="#000" stroke-width="1.9" fill="#fff"/>
<path d="M717.5,1020 C721.2,1020.4 734.2,1017.5 740,1022.5 C745.8,1027.5 750.8,1040.8 752.5,1050 C754.2,1059.2 750.4,1072.9 750,1077.5" stroke="#000" stroke-width="1.9" fill="none" stroke-linejoin="round" stroke-linecap="round"/>
<path d="M695,1032.5 C698.3,1025.8 707.5,1000.4 715,992.5 C722.5,984.6 735.8,986.2 740,985" stroke="#000" stroke-width="1.9" fill="none" stroke-linejoin="round" stroke-linecap="round"/>
<path d="M837.5,967.5 C841.2,969.6 852.9,974.6 860,980 C867.1,985.4 874.6,994.2 880,1000 C885.4,1005.8 889.2,1010 892.5,1015 C895.8,1020 898.8,1027.5 900,1030" stroke="#000" stroke-width="11.9" fill="none" stroke-linecap="butt" stroke-linejoin="round"/>
<path d="M837.5,967.5 C841.2,969.6 852.9,974.6 860,980 C867.1,985.4 874.6,994.2 880,1000 C885.4,1005.8 889.2,1010 892.5,1015 C895.8,1020 898.8,1027.5 900,1030" stroke="#fff" stroke-width="8.1" fill="none" stroke-linecap="butt" stroke-linejoin="round"/>
<path d="M840,957.5 L842.5,967.5" stroke="#000" stroke-width="1.9" fill="none" stroke-linejoin="round" stroke-linecap="round"/>
<path d="M925,880 C926.2,885 930.4,899.6 932.5,910 C934.6,920.4 937.9,932.9 937.5,942.5 C937.1,952.1 933.8,959.6 930,967.5 C926.2,975.4 917.5,982.1 915,990 C912.5,997.9 913.3,1010 915,1015 C916.7,1020 921.7,1017.5 925,1020 C928.3,1022.5 933.3,1028.3 935,1030" stroke="#000" stroke-width="1.9" fill="none" stroke-linejoin="round" stroke-linecap="round"/>
<path d="M937.5,942.5 C937.1,951.7 933.8,986.2 935,997.5 C936.2,1008.8 938.1,1006.9 945,1010 C951.9,1013.1 971,1015.2 976.2,1016.2" stroke="#000" stroke-width="1.9" fill="none" stroke-linejoin="round" stroke-linecap="round"/>
<path d="M940,910 L976.2,890" stroke="#000" stroke-width="1.9" fill="none" stroke-linejoin="round" stroke-linecap="round"/>
<path d="M935,955 C936.7,952.5 938.1,945.4 945,940 C951.9,934.6 971,925.4 976.2,922.5" stroke="#000" stroke-width="1.9" fill="none" stroke-linejoin="round" stroke-linecap="round"/>
<path d="M956.8,1039.3 C958.3,1039 967.6,1036.3 971.7,1036.3 C975.9,1036.3 995.5,1037.6 998.6,1039.3 C1001.8,1040.9 1003.3,1049.3 1003.1,1052.7 C1003,1056.2 997.6,1068 997.1,1073.6 C996.7,1079.3 999.8,1105.4 998.6,1109.5 C997.4,1113.5 988.3,1112 985.2,1114 C982,1115.9 969.7,1126.4 967.3,1128.9 C964.9,1131.4 961.9,1138.3 961.3,1139.3" stroke="#000" stroke-width="1.9" fill="none" stroke-linejoin="round" stroke-linecap="round"/>
<path d="M976.2,1034.8 C978.5,1034.6 985.7,1031.8 989.7,1033.3 C993.6,1034.8 998.1,1039.8 1000.1,1043.8 C1002.1,1047.7 1000.4,1054.2 1001.6,1057.2 C1002.9,1060.2 1006.8,1058.9 1007.6,1061.7 C1008.3,1064.4 1006.3,1071.6 1006.1,1073.6" stroke="#000" stroke-width="1.9" fill="none" stroke-linejoin="round" stroke-linecap="round"/>
<path d="M1019.5,1030.3 C1019.7,1032.4 1020.7,1052.6 1021,1055.7 C1021.4,1058.8 1023.8,1063.4 1024,1067.7 C1024.3,1071.9 1025.6,1103.1 1024,1106.5 C1022.4,1109.8 1006.2,1107.9 1004.6,1108" stroke="#000" stroke-width="1.9" fill="none" stroke-linejoin="round" stroke-linecap="round"/>
<path d="M976.2,1088.6 C978.2,1089.3 984.9,1094 988.2,1093 C991.4,1092.1 994.6,1085.8 995.6,1082.6 C996.6,1079.4 994.4,1075.1 994.1,1073.6" stroke="#000" stroke-width="1.9" fill="none" stroke-linejoin="round" stroke-linecap="round"/>
<path d="M976.2,1087.1 C976,1088.8 974.2,1094.8 974.7,1097.5 C975.2,1100.3 979.5,1101 979.2,1103.5 C979,1106 974.2,1111 973.2,1112.5" stroke="#000" stroke-width="1.9" fill="none" stroke-linejoin="round" stroke-linecap="round"/>
<path d="M968.8,1124.4 C973.5,1122.4 992.2,1112.5 997.1,1112.5 C1002.1,1112.5 1002.1,1119.9 998.6,1124.4 C995.1,1128.9 980,1136.9 976.2,1139.3" stroke="#000" stroke-width="1.9" fill="none" stroke-linejoin="round" stroke-linecap="round"/>
<ellipse cx="921.5" cy="1102.5" rx="36" ry="40" transform="rotate(-25 921.5 1102.5)" stroke="#000" stroke-width="1.9" fill="#fff"/>
<ellipse cx="916.5" cy="1103" rx="36" ry="40" transform="rotate(-25 916.5 1103)" stroke="#000" stroke-width="1.9" fill="#fff"/>
<ellipse cx="911.5" cy="1103.5" rx="36" ry="40" transform="rotate(-25 911.5 1103.5)" stroke="#000" stroke-width="1.9" fill="#fff"/>
<ellipse cx="907.5" cy="1103.5" rx="36" ry="40" transform="rotate(-25 907.5 1103.5)" stroke="#000" stroke-width="1.9" fill="#fff"/>
<path d="M883.6,1090.1 C884.6,1086.3 886.1,1071.9 889.6,1067.7 C893.1,1063.4 902.1,1065.2 904.5,1064.7" stroke="#000" stroke-width="1.9" fill="none" stroke-linejoin="round" stroke-linecap="round"/>
<path d="M886.6,1100.5 C888.1,1104.5 890.6,1117.9 895.6,1124.4 C900.6,1130.9 913,1136.9 916.5,1139.3" stroke="#000" stroke-width="1.9" fill="none" stroke-linejoin="round" stroke-linecap="round"/>
<path d="M913.5,1090.1 C912.3,1090.8 907.5,1092.3 906,1094.5 C904.5,1096.8 903.8,1100.5 904.5,1103.5 C905.3,1106.5 907.3,1111 910.5,1112.5 C913.7,1114 921.7,1112.5 924,1112.5" stroke="#000" stroke-width="1.9" fill="none" stroke-linejoin="round" stroke-linecap="round"/>
<path d="M870.2,1060.2 L870.2,1139.3 L895.6,1148.3" stroke="#000" stroke-width="1.9" fill="none" stroke-linejoin="round" stroke-linecap="round"/>
<path d="M870.2,1109.5 C871.4,1111 875.4,1117.2 877.7,1118.4 C879.9,1119.7 882.6,1117.2 883.6,1116.9" stroke="#000" stroke-width="1.9" fill="none" stroke-linejoin="round" stroke-linecap="round"/>
<path d="M862.7,1048.2 C867.2,1049.2 880.1,1052.6 889.6,1054.2 C899.1,1055.8 909.5,1058.7 919.5,1058 C929.4,1057.2 941.9,1051.7 949.3,1049.7 C956.8,1047.7 961.8,1046.6 964.3,1046" stroke="#000" stroke-width="16.9" fill="none" stroke-linecap="butt" stroke-linejoin="round"/>
<path d="M862.7,1048.2 C867.2,1049.2 880.1,1052.6 889.6,1054.2 C899.1,1055.8 909.5,1058.7 919.5,1058 C929.4,1057.2 941.9,1051.7 949.3,1049.7 C956.8,1047.7 961.8,1046.6 964.3,1046" stroke="#fff" stroke-width="13.1" fill="none" stroke-linecap="butt" stroke-linejoin="round"/>
<path d="M895.6,1022.1 C897.1,1024.7 901.1,1033.7 904.5,1037.8 C908,1041.9 914.5,1045.3 916.5,1046.8" stroke="#000" stroke-width="7.9" fill="none" stroke-linecap="butt" stroke-linejoin="round"/>
<path d="M895.6,1022.1 C897.1,1024.7 901.1,1033.7 904.5,1037.8 C908,1041.9 914.5,1045.3 916.5,1046.8" stroke="#fff" stroke-width="4.1" fill="none" stroke-linecap="butt" stroke-linejoin="round"/>
<path d="M877.7,1006.4 L889.6,1001.2 L903,1019.9 L892.6,1025.1 Z" stroke="#000" stroke-width="1.9" fill="#fff" stroke-linejoin="round" stroke-linecap="round"/>
<path d="M931.4,1024.3 C932.7,1022.9 936.2,1016.6 938.9,1015.4 C941.6,1014.1 945.4,1014.6 947.8,1016.9 C950.3,1019.1 953.1,1025.3 953.8,1028.8 C954.6,1032.3 952.6,1036.3 952.3,1037.8" stroke="#000" stroke-width="1.9" fill="none" stroke-linejoin="round" stroke-linecap="round"/>
<path d="M886.6,1042.3 C887.6,1041.3 889.6,1037 892.6,1036.3 C895.6,1035.5 902.5,1037.5 904.5,1037.8" stroke="#000" stroke-width="1.9" fill="none" stroke-linejoin="round" stroke-linecap="round"/>
<path d="M720,1087.5 C720.8,1090.4 723.3,1097.9 725,1105 C726.7,1112.1 730.8,1119.3 730,1130 C729.2,1140.7 721.7,1162.5 720,1169" stroke="#000" stroke-width="1.9" fill="none" stroke-linejoin="round" stroke-linecap="round"/>
<path d="M690,1112.5 C692.5,1111.2 700,1107.1 705,1105 C710,1102.9 717.5,1100.8 720,1100" stroke="#000" stroke-width="1.9" fill="none" stroke-linejoin="round" stroke-linecap="round"/>
<path d="M690,1112.5 C689.6,1115.4 686.7,1124.6 687.5,1130 C688.3,1135.4 691.2,1140.8 695,1145 C698.8,1149.2 706.7,1151 710,1155 C713.3,1159 714.2,1166.7 715,1169" stroke="#000" stroke-width="1.9" fill="none" stroke-linejoin="round" stroke-linecap="round"/>
<path d="M730,1169 C731.7,1164.2 734.2,1148.6 740,1140 C745.8,1131.4 756.7,1122.1 765,1117.5 C773.3,1112.9 781.7,1111.7 790,1112.5 C798.3,1113.3 807.5,1117.1 815,1122.5 C822.5,1127.9 830.8,1137.2 835,1145 C839.2,1152.8 839.2,1165 840,1169" stroke="#000" stroke-width="1.9" fill="none" stroke-linejoin="round" stroke-linecap="round"/>
<path d="M755,1167.5 C756.7,1164.6 760,1153.8 765,1150 C770,1146.2 781.7,1145.8 785,1145" stroke="#000" stroke-width="1.9" fill="none" stroke-linejoin="round" stroke-linecap="round"/>
<path d="M835,1169 C837.5,1165 844.2,1149.8 850,1145 C855.8,1140.2 863.3,1139.6 870,1140 C876.7,1140.4 884.2,1142.7 890,1147.5 C895.8,1152.3 902.5,1165.4 905,1169" stroke="#000" stroke-width="1.9" fill="none" stroke-linejoin="round" stroke-linecap="round"/>
<path d="M715,970 L715,990" stroke="#000" stroke-width="1.9" fill="none" stroke-linejoin="round" stroke-linecap="round"/>
<path d="M742.5,940 L760,970" stroke="#000" stroke-width="1.9" fill="none" stroke-linejoin="round" stroke-linecap="round"/>
<path d="M960,932.5 C966.2,930 982.1,926 997.5,917.5 C1012.9,909 1043.3,887.3 1052.5,881.2" stroke="#000" stroke-width="1.9" fill="none" stroke-linejoin="round" stroke-linecap="round"/>
<path d="M1200,880 L1203.8,940" stroke="#000" stroke-width="1.9" fill="none" stroke-linejoin="round" stroke-linecap="round"/>
<path d="M960,1015 C970.4,1016 999.2,1023.1 1022.5,1021.2 C1045.8,1019.4 1079.2,1009 1100,1003.8 C1120.8,998.5 1130.2,1000 1147.5,990 C1164.8,980 1194.4,951.5 1203.8,943.8" stroke="#000" stroke-width="1.9" fill="none" stroke-linejoin="round" stroke-linecap="round"/>
<path d="M1203.8,941.2 C1205.2,943.5 1211.2,929.8 1212.5,955 C1213.8,980.2 1213.8,1065 1211.2,1092.5 C1208.8,1120 1199.8,1115.4 1197.5,1120" stroke="#000" stroke-width="1.9" fill="none" stroke-linejoin="round" stroke-linecap="round"/>
<path d="M1205,942.5 C1208.3,944.6 1220,945.4 1225,955 C1230,964.6 1233.8,984.2 1235,1000 C1236.2,1015.8 1232.9,1041.7 1232.5,1050" stroke="#000" stroke-width="1.9" fill="none" stroke-linejoin="round" stroke-linecap="round"/>
<path d="M1097.5,1006.2 C1091.2,1012.7 1069.8,1031.5 1060,1045 C1050.2,1058.5 1042.3,1080.4 1038.8,1087.5" stroke="#000" stroke-width="1.9" fill="none" stroke-linejoin="round" stroke-linecap="round"/>
<path d="M1130,1137.5 C1137.1,1136.2 1163.3,1132.9 1172.5,1130 C1181.7,1127.1 1180.8,1122.5 1185,1120 C1189.2,1117.5 1195.4,1115.8 1197.5,1115" stroke="#000" stroke-width="1.9" fill="none" stroke-linejoin="round" stroke-linecap="round"/>
<path d="M1167.5,1135 L1167.5,1155 L1157.5,1170" stroke="#000" stroke-width="1.9" fill="none" stroke-linejoin="round" stroke-linecap="round"/>
<path d="M1200,992.5 L1212.5,980" stroke="#000" stroke-width="1.9" fill="none" stroke-linejoin="round" stroke-linecap="round"/>
<path d="M1200,1125 L1207.5,1105 L1227.5,1098.8 L1255,1102.5 L1275,1117.5 L1280,1137.5 L1270,1157.5 L1252.5,1162.5 L1225,1155 L1207.5,1140 Z" stroke="#000" stroke-width="1.9" fill="#fff" stroke-linejoin="round" stroke-linecap="round"/>
<ellipse cx="1255" cy="1132.5" rx="22" ry="29" transform="rotate(-15 1255 1132.5)" stroke="#000" stroke-width="1.9" fill="none"/>
<ellipse cx="1257.5" cy="1132.5" rx="18" ry="26" transform="rotate(-15 1257.5 1132.5)" stroke="#000" stroke-width="1.9" fill="none"/>
<path d="M1266.2,1102.5 L1268.8,1088.8 L1276.2,1090 L1273.8,1105 Z" stroke="#000" stroke-width="1.9" fill="#fff" stroke-linejoin="round" stroke-linecap="round"/>
<path d="M1202.5,1112.5 L1222.5,1116.2 L1223.8,1122.5 L1203.8,1120 Z" stroke="#000" stroke-width="1.9" fill="#fff" stroke-linejoin="round" stroke-linecap="round"/>
<path d="M1232.5,1042.5 C1235,1043.8 1245.4,1046.2 1247.5,1050 C1249.6,1053.8 1249.2,1061.2 1245,1065 C1240.8,1068.8 1226.2,1071.2 1222.5,1072.5" stroke="#000" stroke-width="1.9" fill="none" stroke-linejoin="round" stroke-linecap="round"/>
<path d="M1215,1050 L1277.5,1082.5" stroke="#000" stroke-width="1.9" fill="none" stroke-linejoin="round" stroke-linecap="round"/>
<path d="M1215,1075 L1255,1095" stroke="#000" stroke-width="1.9" fill="none" stroke-linejoin="round" stroke-linecap="round"/>
<path d="M1252.5,1072.5 L1253.8,1095" stroke="#000" stroke-width="1.9" fill="none" stroke-dasharray="5 4"/>
<path d="M1213.8,1032.5 L1221.2,1035 L1222.5,1095 L1215,1100 Z" stroke="#000" stroke-width="1.9" fill="#fff" stroke-linejoin="round" stroke-linecap="round"/>
<path d="M1282.5,1086.2 L1286.2,1082.5 L1302.5,1095 L1298.8,1101.2 Z" stroke="#000" stroke-width="1.9" fill="#fff" stroke-linejoin="round" stroke-linecap="round"/>
<path d="M1285,1083.8 L1282.5,1090" stroke="#000" stroke-width="1.5" fill="none" stroke-linejoin="round" stroke-linecap="round"/>
<path d="M1288.2,1086.2 L1285.8,1092.5" stroke="#000" stroke-width="1.5" fill="none" stroke-linejoin="round" stroke-linecap="round"/>
<path d="M1291.5,1088.8 L1289,1095" stroke="#000" stroke-width="1.5" fill="none" stroke-linejoin="round" stroke-linecap="round"/>
<path d="M1294.8,1091.2 L1292.2,1097.5" stroke="#000" stroke-width="1.5" fill="none" stroke-linejoin="round" stroke-linecap="round"/>
<path d="M1298,1093.8 L1295.5,1100" stroke="#000" stroke-width="1.5" fill="none" stroke-linejoin="round" stroke-linecap="round"/>
<path d="M1297.5,1100 L1301.2,1090 L1310,1087.5 L1321.2,1093.8 L1325,1102.5 L1321.2,1112.5 L1312.5,1115 L1301.2,1110 Z" stroke="#000" stroke-width="1.9" fill="#fff" stroke-linejoin="round" stroke-linecap="round"/>
<path d="M1302.5,1095 C1304.2,1095.2 1310,1094.6 1312.5,1096.2 C1315,1097.9 1317.7,1102.5 1317.5,1105 C1317.3,1107.5 1312.3,1110.2 1311.2,1111.2" stroke="#000" stroke-width="1.6" fill="none" stroke-linejoin="round" stroke-linecap="round"/>
<path d="M960,1027.5 C961.2,1026.9 970,1020.2 975,1020 C980,1019.8 1015.4,1023.8 1020,1025 C1024.6,1026.2 1029.4,1032.1 1030,1035 C1030.6,1037.9 1028.3,1057.7 1027.5,1060 C1026.7,1062.3 1020.1,1062.1 1020,1062.5 C1019.9,1062.9 1025.8,1061.2 1026.2,1065 C1026.7,1068.8 1027,1104 1025,1107.5 C1023,1111 1004.8,1105.6 1002.5,1107.5 C1000.2,1109.4 999.8,1126.9 997.5,1130 C995.2,1133.1 977.1,1142.9 975,1145 C972.9,1147.1 972.7,1154.2 972.5,1155" stroke="#000" stroke-width="1.9" fill="none" stroke-linejoin="round" stroke-linecap="round"/>
<path d="M1020,1032.5 L1030,1035 L1031.2,1055 L1021.2,1057.5 Z" stroke="#000" stroke-width="1.9" fill="#fff" stroke-linejoin="round" stroke-linecap="round"/>
<path d="M960,1032.5 C962.5,1032.1 970,1030 975,1030 C980,1030 985.8,1030.4 990,1032.5 C994.2,1034.6 997.5,1038.3 1000,1042.5 C1002.5,1046.7 1004.6,1051.2 1005,1057.5 C1005.4,1063.8 1003.3,1072.9 1002.5,1080 C1001.7,1087.1 1000.4,1096.7 1000,1100" stroke="#000" stroke-width="1.9" fill="none" stroke-linejoin="round" stroke-linecap="round"/>
<path d="M970,1055 C972.9,1056.7 982.5,1062.5 987.5,1065 C992.5,1067.5 997.1,1066.7 1000,1070 C1002.9,1073.3 1004.2,1082.5 1005,1085" stroke="#000" stroke-width="1.9" fill="none" stroke-linejoin="round" stroke-linecap="round"/>
<path d="M975,1085 C976.2,1086.7 982.5,1091.7 982.5,1095 C982.5,1098.3 975.4,1102.1 975,1105 C974.6,1107.9 979.2,1111.2 980,1112.5" stroke="#000" stroke-width="1.9" fill="none" stroke-linejoin="round" stroke-linecap="round"/>
<path d="M960,1127.5 C963.3,1125.8 973.8,1119.6 980,1117.5 C986.2,1115.4 994.6,1115.4 997.5,1115" stroke="#000" stroke-width="1.9" fill="none" stroke-linejoin="round" stroke-linecap="round"/>
<path d="M1000,1165 C1002.5,1163.3 1009.2,1157.1 1015,1155 C1020.8,1152.9 1031.2,1152.1 1035,1152.5 C1038.8,1152.9 1037.1,1156.7 1037.5,1157.5" stroke="#000" stroke-width="1.9" fill="none" stroke-linejoin="round" stroke-linecap="round"/>
<path d="M1020,1152.5 L1017.5,1170" stroke="#000" stroke-width="1.9" fill="none" stroke-linejoin="round" stroke-linecap="round"/>
<text x="0" y="0" transform="translate(432.5 1160.2) scale(0.96 1)" font-family="Liberation Sans" font-size="34.5" font-weight="bold" text-anchor="start">21</text>
<path d="M463.1,1169.2 L510.9,1243.8" stroke="#000" stroke-width="2" fill="none" stroke-linejoin="round" stroke-linecap="round"/>
<path d="M304.8,1154.2 C307.8,1152.5 316.8,1145.3 322.7,1143.8 C328.7,1142.3 331.2,1138.8 340.6,1145.3 C350.1,1151.7 365,1168.4 379.5,1182.6 C393.9,1196.8 414.8,1217.9 427.3,1230.4 C439.7,1242.8 445.7,1251.5 454.1,1257.3 C462.6,1263 465.6,1266.5 478,1264.7 C490.5,1263 508.4,1254 528.8,1246.8 C549.2,1239.6 583.6,1224.4 600.5,1221.4 C617.4,1218.4 621.4,1222.4 630.4,1228.9 C639.3,1235.4 647.5,1246.1 654.3,1260.3 C661,1274.4 667.2,1292.6 670.7,1314 C674.2,1335.4 674.3,1361.3 675.2,1388.7 C676,1416.1 676.5,1457.4 675.8,1478.3 C675,1499.2 673.3,1506.7 670.7,1514.1 C668.1,1521.6 662,1521.6 660.2,1523.1" stroke="#000" stroke-width="12.2" fill="none" stroke-linecap="butt" stroke-linejoin="round"/>
<path d="M304.8,1154.2 C307.8,1152.5 316.8,1145.3 322.7,1143.8 C328.7,1142.3 331.2,1138.8 340.6,1145.3 C350.1,1151.7 365,1168.4 379.5,1182.6 C393.9,1196.8 414.8,1217.9 427.3,1230.4 C439.7,1242.8 445.7,1251.5 454.1,1257.3 C462.6,1263 465.6,1266.5 478,1264.7 C490.5,1263 508.4,1254 528.8,1246.8 C549.2,1239.6 583.6,1224.4 600.5,1221.4 C617.4,1218.4 621.4,1222.4 630.4,1228.9 C639.3,1235.4 647.5,1246.1 654.3,1260.3 C661,1274.4 667.2,1292.6 670.7,1314 C674.2,1335.4 674.3,1361.3 675.2,1388.7 C676,1416.1 676.5,1457.4 675.8,1478.3 C675,1499.2 673.3,1506.7 670.7,1514.1 C668.1,1521.6 662,1521.6 660.2,1523.1" stroke="#fff" stroke-width="7.8" fill="none" stroke-linecap="butt" stroke-linejoin="round"/>
<path d="M588.6,1227.4 L618.4,1224.4" stroke="#000" stroke-width="1.6" fill="none" stroke-linejoin="round" stroke-linecap="round"/>
<path d="M655.8,1281.2 C656.8,1289.1 660.5,1311 661.7,1328.9 C663,1346.9 662.9,1363.8 663.2,1388.7 C663.6,1413.6 664.1,1458.4 663.8,1478.3 C663.6,1498.2 662.1,1503.2 661.7,1508.2" stroke="#000" stroke-width="1.6" fill="none" stroke-linejoin="round" stroke-linecap="round"/>
<path d="M318.2,1149.7 C316,1151.7 307.3,1155.7 304.8,1161.7 C302.3,1167.7 300.8,1178.1 303.3,1185.6 C305.8,1193 310.5,1199 319.7,1206.5 C328.9,1214 347.1,1221.9 358.6,1230.4 C370,1238.8 381,1245.8 388.4,1257.3 C395.9,1268.7 398.4,1282.2 403.4,1299.1 C408.3,1316 412.3,1340.9 418.3,1358.8 C424.3,1376.7 430.7,1394.2 439.2,1406.6 C447.7,1419.1 459.1,1427.6 469.1,1433.5 C479,1439.4 491,1441.9 498.9,1441.9 C506.9,1441.9 513.9,1434.9 516.9,1433.5" stroke="#000" stroke-width="19" fill="none" stroke-linejoin="round"/>
<path d="M318.2,1149.7 C316,1151.7 307.3,1155.7 304.8,1161.7 C302.3,1167.7 300.8,1178.1 303.3,1185.6 C305.8,1193 310.5,1199 319.7,1206.5 C328.9,1214 347.1,1221.9 358.6,1230.4 C370,1238.8 381,1245.8 388.4,1257.3 C395.9,1268.7 398.4,1282.2 403.4,1299.1 C408.3,1316 412.3,1340.9 418.3,1358.8 C424.3,1376.7 430.7,1394.2 439.2,1406.6 C447.7,1419.1 459.1,1427.6 469.1,1433.5 C479,1439.4 491,1441.9 498.9,1441.9 C506.9,1441.9 513.9,1434.9 516.9,1433.5" stroke="#fff" stroke-width="15" fill="none" stroke-linejoin="round"/>
<path d="M318.2,1149.7 C316,1151.7 307.3,1155.7 304.8,1161.7 C302.3,1167.7 300.8,1178.1 303.3,1185.6 C305.8,1193 310.5,1199 319.7,1206.5 C328.9,1214 347.1,1221.9 358.6,1230.4 C370,1238.8 381,1245.8 388.4,1257.3 C395.9,1268.7 398.4,1282.2 403.4,1299.1 C408.3,1316 412.3,1340.9 418.3,1358.8 C424.3,1376.7 430.7,1394.2 439.2,1406.6 C447.7,1419.1 459.1,1427.6 469.1,1433.5 C479,1439.4 491,1441.9 498.9,1441.9 C506.9,1441.9 513.9,1434.9 516.9,1433.5" stroke="#000" stroke-width="12.6" fill="none" stroke-linejoin="round"/>
<path d="M318.2,1149.7 C316,1151.7 307.3,1155.7 304.8,1161.7 C302.3,1167.7 300.8,1178.1 303.3,1185.6 C305.8,1193 310.5,1199 319.7,1206.5 C328.9,1214 347.1,1221.9 358.6,1230.4 C370,1238.8 381,1245.8 388.4,1257.3 C395.9,1268.7 398.4,1282.2 403.4,1299.1 C408.3,1316 412.3,1340.9 418.3,1358.8 C424.3,1376.7 430.7,1394.2 439.2,1406.6 C447.7,1419.1 459.1,1427.6 469.1,1433.5 C479,1439.4 491,1441.9 498.9,1441.9 C506.9,1441.9 513.9,1434.9 516.9,1433.5" stroke="#fff" stroke-width="8.6" fill="none" stroke-linejoin="round"/>
<path d="M318.2,1149.7 C316,1151.7 307.3,1155.7 304.8,1161.7 C302.3,1167.7 300.8,1178.1 303.3,1185.6 C305.8,1193 310.5,1199 319.7,1206.5 C328.9,1214 347.1,1221.9 358.6,1230.4 C370,1238.8 381,1245.8 388.4,1257.3 C395.9,1268.7 398.4,1282.2 403.4,1299.1 C408.3,1316 412.3,1340.9 418.3,1358.8 C424.3,1376.7 430.7,1394.2 439.2,1406.6 C447.7,1419.1 459.1,1427.6 469.1,1433.5 C479,1439.4 491,1441.9 498.9,1441.9 C506.9,1441.9 513.9,1434.9 516.9,1433.5" stroke="#000" stroke-width="6.2" fill="none" stroke-linejoin="round"/>
<path d="M318.2,1149.7 C316,1151.7 307.3,1155.7 304.8,1161.7 C302.3,1167.7 300.8,1178.1 303.3,1185.6 C305.8,1193 310.5,1199 319.7,1206.5 C328.9,1214 347.1,1221.9 358.6,1230.4 C370,1238.8 381,1245.8 388.4,1257.3 C395.9,1268.7 398.4,1282.2 403.4,1299.1 C408.3,1316 412.3,1340.9 418.3,1358.8 C424.3,1376.7 430.7,1394.2 439.2,1406.6 C447.7,1419.1 459.1,1427.6 469.1,1433.5 C479,1439.4 491,1441.9 498.9,1441.9 C506.9,1441.9 513.9,1434.9 516.9,1433.5" stroke="#fff" stroke-width="2.2" fill="none" stroke-linejoin="round"/>
<path d="M513.9,1438 C516.6,1433.7 526.6,1423.3 530.3,1412.6 C534,1401.9 535.3,1385.2 536.3,1373.8 C537.3,1362.3 535,1351.8 536.3,1343.9 C537.5,1335.9 540,1329.7 543.8,1326 C547.5,1322.2 556.2,1322.2 558.7,1321.5" stroke="#000" stroke-width="11.2" fill="none" stroke-linecap="butt" stroke-linejoin="round"/>
<path d="M513.9,1438 C516.6,1433.7 526.6,1423.3 530.3,1412.6 C534,1401.9 535.3,1385.2 536.3,1373.8 C537.3,1362.3 535,1351.8 536.3,1343.9 C537.5,1335.9 540,1329.7 543.8,1326 C547.5,1322.2 556.2,1322.2 558.7,1321.5" stroke="#fff" stroke-width="6.8" fill="none" stroke-linecap="butt" stroke-linejoin="round"/>
<path d="M537.8,1326 C541.3,1325 551.2,1318.5 558.7,1320 C566.2,1321.5 576.1,1326 582.6,1334.9 C589.1,1343.9 594.8,1357.3 597.5,1373.8 C600.3,1390.2 598,1413.6 599,1433.5 C600,1453.4 598.3,1478.8 603.5,1493.2 C608.7,1507.7 620.9,1515.6 630.4,1520.1 C639.8,1524.6 655.3,1520.1 660.2,1520.1" stroke="#000" stroke-width="20" fill="none" stroke-linejoin="round"/>
<path d="M537.8,1326 C541.3,1325 551.2,1318.5 558.7,1320 C566.2,1321.5 576.1,1326 582.6,1334.9 C589.1,1343.9 594.8,1357.3 597.5,1373.8 C600.3,1390.2 598,1413.6 599,1433.5 C600,1453.4 598.3,1478.8 603.5,1493.2 C608.7,1507.7 620.9,1515.6 630.4,1520.1 C639.8,1524.6 655.3,1520.1 660.2,1520.1" stroke="#fff" stroke-width="16" fill="none" stroke-linejoin="round"/>
<path d="M537.8,1326 C541.3,1325 551.2,1318.5 558.7,1320 C566.2,1321.5 576.1,1326 582.6,1334.9 C589.1,1343.9 594.8,1357.3 597.5,1373.8 C600.3,1390.2 598,1413.6 599,1433.5 C600,1453.4 598.3,1478.8 603.5,1493.2 C608.7,1507.7 620.9,1515.6 630.4,1520.1 C639.8,1524.6 655.3,1520.1 660.2,1520.1" stroke="#000" stroke-width="13.6" fill="none" stroke-linejoin="round"/>
<path d="M537.8,1326 C541.3,1325 551.2,1318.5 558.7,1320 C566.2,1321.5 576.1,1326 582.6,1334.9 C589.1,1343.9 594.8,1357.3 597.5,1373.8 C600.3,1390.2 598,1413.6 599,1433.5 C600,1453.4 598.3,1478.8 603.5,1493.2 C608.7,1507.7 620.9,1515.6 630.4,1520.1 C639.8,1524.6 655.3,1520.1 660.2,1520.1" stroke="#fff" stroke-width="9.6" fill="none" stroke-linejoin="round"/>
<path d="M537.8,1326 C541.3,1325 551.2,1318.5 558.7,1320 C566.2,1321.5 576.1,1326 582.6,1334.9 C589.1,1343.9 594.8,1357.3 597.5,1373.8 C600.3,1390.2 598,1413.6 599,1433.5 C600,1453.4 598.3,1478.8 603.5,1493.2 C608.7,1507.7 620.9,1515.6 630.4,1520.1 C639.8,1524.6 655.3,1520.1 660.2,1520.1" stroke="#000" stroke-width="7.2" fill="none" stroke-linejoin="round"/>
<path d="M537.8,1326 C541.3,1325 551.2,1318.5 558.7,1320 C566.2,1321.5 576.1,1326 582.6,1334.9 C589.1,1343.9 594.8,1357.3 597.5,1373.8 C600.3,1390.2 598,1413.6 599,1433.5 C600,1453.4 598.3,1478.8 603.5,1493.2 C608.7,1507.7 620.9,1515.6 630.4,1520.1 C639.8,1524.6 655.3,1520.1 660.2,1520.1" stroke="#fff" stroke-width="3.2" fill="none" stroke-linejoin="round"/>
<path d="M722.5,1100 C720.8,1100.5 708.5,1103.8 705,1105 C701.5,1106.2 689.1,1109.5 687.5,1112.5 C685.9,1115.5 687.2,1131.5 688.8,1135 C690.2,1138.5 699.9,1145.5 702.5,1147.5 C705.1,1149.5 713.5,1153.5 715,1155 C716.5,1156.5 718.5,1160.8 717.5,1162.5 C716.5,1164.2 706.5,1170.5 705,1172.5 C703.5,1174.5 704,1181 702.5,1182.5 C701,1184 691.2,1185.5 690,1187.5 C688.8,1189.5 691.2,1200.2 690,1202.5 C688.8,1204.8 678.8,1209.2 677.5,1210" stroke="#000" stroke-width="1.9" fill="none" stroke-linejoin="round" stroke-linecap="round"/>
<path d="M675,1210 C674.8,1213.3 672.9,1223.3 673.8,1230 C674.6,1236.7 677.3,1241.7 680,1250 C682.7,1258.3 685.8,1272.5 690,1280 C694.2,1287.5 696.7,1292.5 705,1295 C713.3,1297.5 730.8,1298.3 740,1295 C749.2,1291.7 756.2,1282.5 760,1275 C763.8,1267.5 763.3,1258.3 762.5,1250 C761.7,1241.7 756.2,1229.2 755,1225" stroke="#000" stroke-width="1.9" fill="none" stroke-linejoin="round" stroke-linecap="round"/>
<path d="M677.5,1235 C681.2,1237.5 691.7,1247.9 700,1250 C708.3,1252.1 719.6,1251.2 727.5,1247.5 C735.4,1243.8 744.2,1230.8 747.5,1227.5" stroke="#000" stroke-width="1.9" fill="none" stroke-linejoin="round" stroke-linecap="round"/>
<path d="M717.5,1200 C717.1,1202.1 713.8,1209.2 715,1212.5 C716.2,1215.8 720.8,1219.6 725,1220 C729.2,1220.4 737.5,1215.8 740,1215" stroke="#000" stroke-width="1.9" fill="none" stroke-linejoin="round" stroke-linecap="round"/>
<path d="M730,1190 C728.3,1190.8 722.1,1193.3 720,1195 C717.9,1196.7 717.9,1199.2 717.5,1200" stroke="#000" stroke-width="1.9" fill="none" stroke-linejoin="round" stroke-linecap="round"/>
<path d="M720,1100 L722.5,1125 L730,1140" stroke="#000" stroke-width="1.9" fill="none" stroke-linejoin="round" stroke-linecap="round"/>
<path d="M677.5,1235.0 C678.5,1239.2 681.2,1252.1 683.8,1260 C686.2,1267.9 688.5,1276.7 692.5,1282.5 C696.5,1288.3 699.6,1292.7 707.5,1295 C715.4,1297.3 731.5,1299.2 740,1296.2 C748.5,1293.3 755,1284.8 758.8,1277.5 C762.5,1270.2 763.1,1261 762.5,1252.5 C761.9,1244 756.2,1230.6 755,1226.2" stroke="#000" stroke-width="1.9" fill="#fff" stroke-linejoin="round" stroke-linecap="round"/>
<path d="M677.5,1235 C681.2,1237.5 691.7,1247.9 700,1250 C708.3,1252.1 719.6,1251.2 727.5,1247.5 C735.4,1243.8 744.2,1230.8 747.5,1227.5" stroke="#000" stroke-width="1.9" fill="none" stroke-linejoin="round" stroke-linecap="round"/>
<path d="M677.5,1235 L675,1215" stroke="#000" stroke-width="1.9" fill="none" stroke-linejoin="round" stroke-linecap="round"/>
<ellipse cx="790.8" cy="1181" rx="54" ry="70" transform="rotate(-28 790.8 1181)" stroke="#000" stroke-width="1.9" fill="#fff"/>
<ellipse cx="785.8" cy="1185" rx="54" ry="70" transform="rotate(-28 785.8 1185)" stroke="#000" stroke-width="1.9" fill="#fff"/>
<ellipse cx="781.8" cy="1188" rx="54" ry="70" transform="rotate(-28 781.8 1188)" stroke="#000" stroke-width="1.9" fill="#fff"/>
<path d="M750,1182.5 C750.4,1178.3 749.2,1163.3 752.5,1157.5 C755.8,1151.7 763.8,1147.9 770,1147.5 C776.2,1147.1 783.8,1149.2 790,1155 C796.2,1160.8 803.8,1173.8 807.5,1182.5 C811.2,1191.2 813.3,1200 812.5,1207.5 C811.7,1215 806.2,1223.8 802.5,1227.5 C798.8,1231.2 795,1231.2 790,1230 C785,1228.8 775.4,1221.7 772.5,1220" stroke="#000" stroke-width="2.2" fill="none" stroke-linejoin="round" stroke-linecap="round"/>
<path d="M790,1162.5 C790.6,1165.8 790.4,1177.1 793.8,1182.5 C797.1,1187.9 807.3,1192.9 810,1195" stroke="#000" stroke-width="1.9" fill="none" stroke-linejoin="round" stroke-linecap="round"/>
<ellipse cx="872.5" cy="1183.8" rx="37" ry="44" transform="rotate(-20 872.5 1183.8)" stroke="#000" stroke-width="1.9" fill="#fff"/>
<path d="M843.8,1182.5 C844.4,1180.4 844.8,1172.5 847.5,1170 C850.2,1167.5 855.4,1165.4 860,1167.5 C864.6,1169.6 872.1,1176.2 875,1182.5 C877.9,1188.8 879.2,1200 877.5,1205 C875.8,1210 868.3,1211.7 865,1212.5 C861.7,1213.3 858.8,1210.4 857.5,1210" stroke="#000" stroke-width="1.9" fill="none" stroke-linejoin="round" stroke-linecap="round"/>
<path d="M790,1255 C793.3,1258.3 803.3,1268.3 810,1275 C816.7,1281.7 825,1290 830,1295 C835,1300 833.3,1302.1 840,1305 C846.7,1307.9 857.9,1309.2 870,1312.5 C882.1,1315.8 905.4,1322.9 912.5,1325" stroke="#000" stroke-width="1.9" fill="none" stroke-linejoin="round" stroke-linecap="round"/>
<path d="M830,1245 C833.8,1246.2 842.5,1250.4 852.5,1252.5 C862.5,1254.6 882.9,1255.8 890,1257.5 C897.1,1259.2 894.2,1261.7 895,1262.5" stroke="#000" stroke-width="1.9" fill="none" stroke-linejoin="round" stroke-linecap="round"/>
<path d="M855,1272.5 C857.1,1272.9 865.2,1268.3 867.5,1275 C869.8,1281.7 868.5,1306.2 868.8,1312.5" stroke="#000" stroke-width="1.9" fill="none" stroke-linejoin="round" stroke-linecap="round"/>
<path d="M820,1252.5 C821,1254.2 825,1255.8 826.2,1262.5 C827.5,1269.2 827.3,1287.5 827.5,1292.5" stroke="#000" stroke-width="1.9" fill="none" stroke-linejoin="round" stroke-linecap="round"/>
<path d="M920,1175 L930,1235" stroke="#000" stroke-width="1.9" fill="none" stroke-linejoin="round" stroke-linecap="round"/>
<path d="M905,1182.5 L925,1172.5" stroke="#000" stroke-width="1.9" fill="none" stroke-linejoin="round" stroke-linecap="round"/>
<path d="M912.7,1239.7 C914,1238.7 918.2,1235.3 920.5,1233.5 C922.9,1231.7 923.1,1230.6 926.8,1228.8 C930.4,1227 938.7,1224.9 942.3,1222.6 C946,1220.3 946,1217.4 948.6,1214.8 C951.2,1212.2 953.2,1209.1 957.9,1207 C962.6,1204.9 971.4,1203.4 976.6,1202.3 C981.8,1201.3 983.9,1200.5 989.1,1200.8 C994.3,1201 1004.7,1203.4 1007.8,1203.9" stroke="#000" stroke-width="1.9" fill="none" stroke-linejoin="round" stroke-linecap="round"/>
<path d="M1037.4,1213.2 C1039.9,1212 1057.8,1200.8 1062.3,1200.8 C1066.9,1200.8 1080.4,1211.2 1082.6,1213.2 C1084.8,1215.3 1084.5,1218.7 1084.2,1221 C1083.8,1223.4 1080.9,1234.8 1079.5,1236.6 C1078.1,1238.5 1071.1,1236.9 1070.1,1239.7 C1069.2,1242.5 1070.8,1260.9 1070.1,1264.7 C1069.5,1268.4 1065.8,1275 1063.9,1277.1 C1062,1279.3 1055.8,1283.8 1051.4,1286.5 C1047.1,1289.1 1025.9,1300.4 1020.3,1303.6 C1014.6,1306.9 998.8,1316.9 995.3,1319.2 C991.9,1321.6 986.9,1326.2 986,1327" stroke="#000" stroke-width="1.9" fill="none" stroke-linejoin="round" stroke-linecap="round"/>
<path d="M989.1,1200.8 C992.2,1202.6 999.5,1207.3 1007.8,1211.7 C1016.1,1216.1 1029.1,1222.6 1039,1227.3 C1048.8,1231.9 1062.3,1237.7 1067,1239.7" stroke="#000" stroke-width="1.9" fill="none" stroke-linejoin="round" stroke-linecap="round"/>
<path d="M995.3,1249.1 C995.8,1247 995.8,1240 998.4,1236.6 C1001,1233.2 1008.8,1230.1 1010.9,1228.8" stroke="#000" stroke-width="1.9" fill="none" stroke-linejoin="round" stroke-linecap="round"/>
<path d="M1021.8,1227.3 C1023.2,1227.9 1033.7,1231.6 1035.8,1233.5 C1038,1235.4 1043.6,1244.6 1043.6,1246 C1043.6,1247.4 1037.4,1246.6 1035.8,1247.5 C1034.3,1248.5 1029.9,1254.2 1028.1,1255.3 C1026.2,1256.4 1019.2,1258.6 1017.1,1258.4 C1015.1,1258.3 1009.5,1254.7 1007.8,1253.8 C1006.1,1252.8 1000.8,1249.6 1000,1249.1" stroke="#000" stroke-width="1.9" fill="none" stroke-linejoin="round" stroke-linecap="round"/>
<path d="M1012.5,1233.5 L1017.1,1152.5 L1031.2,1152.5 L1021.8,1231.9 Z" stroke="#000" stroke-width="1.9" fill="#fff" stroke-linejoin="round" stroke-linecap="round"/>
<path d="M1015.6,1146.2 C1016.9,1147 1019.7,1150.1 1023.4,1150.9 C1027,1151.7 1034.8,1150.1 1037.4,1150.9 C1040,1151.7 1038.7,1154.8 1039,1155.6" stroke="#000" stroke-width="1.9" fill="none" stroke-linejoin="round" stroke-linecap="round"/>
<path d="M1000,1186.8 C999.5,1183.9 995.6,1173.8 996.9,1169.6 C998.2,1165.5 1004.4,1162.1 1007.8,1161.8 C1011.2,1161.6 1015.6,1167 1017.1,1168.1" stroke="#000" stroke-width="1.9" fill="none" stroke-linejoin="round" stroke-linecap="round"/>
<path d="M987.5,1202.3 C989.1,1200.8 993.5,1194.3 996.9,1193 C1000.3,1191.7 1006,1191.7 1007.8,1194.5 C1009.6,1197.4 1007.8,1207.5 1007.8,1210.1" stroke="#000" stroke-width="1.9" fill="none" stroke-linejoin="round" stroke-linecap="round"/>
<path d="M1028.1,1172.7 C1032.2,1175.1 1048.6,1182.3 1053,1186.8 C1057.4,1191.2 1054.3,1197.1 1054.5,1199.2" stroke="#000" stroke-width="1.9" fill="none" stroke-linejoin="round" stroke-linecap="round"/>
<path d="M1029.6,1211.7 C1030.6,1210.6 1033.8,1207 1035.8,1205.5 C1037.9,1203.9 1037.7,1203.1 1042.1,1202.3 C1046.5,1201.6 1059,1201 1062.3,1200.8" stroke="#000" stroke-width="1.9" fill="none" stroke-linejoin="round" stroke-linecap="round"/>
<path d="M950.1,1249.1 C949.9,1244.4 946.8,1227.3 948.6,1221 C950.4,1214.8 959,1213.2 961,1211.7" stroke="#000" stroke-width="6.6" fill="none" stroke-linecap="butt" stroke-linejoin="round"/>
<path d="M950.1,1249.1 C949.9,1244.4 946.8,1227.3 948.6,1221 C950.4,1214.8 959,1213.2 961,1211.7" stroke="#fff" stroke-width="3.4" fill="none" stroke-linecap="butt" stroke-linejoin="round"/>
<path d="M953.2,1222.6 C957.1,1224.4 969.6,1229.6 976.6,1233.5 C983.6,1237.4 990.6,1240.8 995.3,1246 C1000,1251.2 1003.1,1261.6 1004.7,1264.7" stroke="#000" stroke-width="6.6" fill="none" stroke-linecap="butt" stroke-linejoin="round"/>
<path d="M953.2,1222.6 C957.1,1224.4 969.6,1229.6 976.6,1233.5 C983.6,1237.4 990.6,1240.8 995.3,1246 C1000,1251.2 1003.1,1261.6 1004.7,1264.7" stroke="#fff" stroke-width="3.4" fill="none" stroke-linecap="butt" stroke-linejoin="round"/>
<path d="M993.8,1267.8 L998.4,1263.1 L1010.9,1264.7 L1014,1280.3 L1010.9,1291.2 L1000,1292.7 L995.3,1280.3 Z" stroke="#000" stroke-width="1.9" fill="#fff" stroke-linejoin="round" stroke-linecap="round"/>
<path d="M995.3,1280.3 L1014,1280.3" stroke="#000" stroke-width="1.9" fill="none" stroke-linejoin="round" stroke-linecap="round"/>
<path d="M992.2,1274 L995.3,1319.2" stroke="#000" stroke-width="1.9" fill="none" stroke-linejoin="round" stroke-linecap="round"/>
<path d="M1023.4,1303.6 C1026.5,1302.1 1038.2,1294 1042.1,1294.3 C1046,1294.5 1047.8,1302.3 1046.8,1305.2 C1045.7,1308.1 1039.5,1311.4 1035.8,1311.4 C1032.2,1311.4 1026.8,1306.2 1024.9,1305.2" stroke="#000" stroke-width="1.9" fill="none" stroke-linejoin="round" stroke-linecap="round"/>
<path d="M967.3,1327 C968.8,1328.3 972.5,1333.2 976.6,1334.8 C980.8,1336.4 989.1,1337.4 992.2,1336.4 C995.3,1335.3 996.1,1330.4 995.3,1328.6 C994.5,1326.8 988.8,1326 987.5,1325.5" stroke="#000" stroke-width="1.9" fill="none" stroke-linejoin="round" stroke-linecap="round"/>
<path d="M1079.5,1210.1 C1084.4,1208.1 1102.2,1201 1109.1,1197.7 C1116,1194.3 1118.8,1191.2 1120.8,1189.9" stroke="#000" stroke-width="1.9" fill="none" stroke-linejoin="round" stroke-linecap="round"/>
<path d="M1084.2,1214.8 C1088.1,1213.2 1101.8,1205.5 1107.5,1205.5 C1113.2,1205.5 1117.4,1209.6 1118.4,1214.8 C1119.5,1220 1115.1,1228.8 1113.8,1236.6 C1112.5,1244.4 1111.2,1257.4 1110.6,1261.6" stroke="#000" stroke-width="1.9" fill="none" stroke-linejoin="round" stroke-linecap="round"/>
<path d="M1095.1,1227.3 C1094.3,1231.9 1087.3,1249.6 1090.4,1255.3 C1093.5,1261 1109.9,1260.5 1113.8,1261.6" stroke="#000" stroke-width="1.9" fill="none" stroke-linejoin="round" stroke-linecap="round"/>
<path d="M920.5,1179 L928.3,1228.8" stroke="#000" stroke-width="1.9" fill="none" stroke-linejoin="round" stroke-linecap="round"/>
<path d="M880,1317.7 L911.2,1323.9" stroke="#000" stroke-width="1.9" fill="none" stroke-linejoin="round" stroke-linecap="round"/>
<path d="M915.8,1246 C920.3,1245.7 934.5,1241.8 942.3,1244.4 C950.1,1247 957.1,1253 962.6,1261.6 C968.1,1270.1 973.2,1286.2 975.1,1295.8 C976.9,1305.5 975.8,1313.5 973.5,1319.2 C971.2,1324.9 966.2,1327.3 961,1330.1 C955.8,1333 945.5,1335.3 942.3,1336.4" stroke="#000" stroke-width="1.9" fill="none" stroke-linejoin="round" stroke-linecap="round"/>
<ellipse cx="926.8" cy="1292.7" rx="36" ry="44" transform="rotate(-25 926.8 1292.7)" stroke="#000" stroke-width="1.9" fill="#fff"/>
<path d="M895.6,1261.6 L947,1284.9" stroke="#000" stroke-width="1.9" fill="none" stroke-linejoin="round" stroke-linecap="round"/>
<path d="M900.3,1286.5 L911.2,1323.9" stroke="#000" stroke-width="1.9" fill="none" stroke-linejoin="round" stroke-linecap="round"/>
<path d="M928.3,1333.2 L947,1308.3" stroke="#000" stroke-width="1.9" fill="none" stroke-linejoin="round" stroke-linecap="round"/>
<path d="M909.6,1294.3 C909.9,1292.5 909.6,1285.7 911.2,1283.4 C912.7,1281 915.8,1279.7 919,1280.3 C922.1,1280.8 927.8,1283.9 929.9,1286.5 C931.9,1289.1 930.4,1292.5 931.4,1295.8 C932.5,1299.2 936.9,1304.2 936.1,1306.8 C935.3,1309.3 929.9,1311.4 926.8,1311.4 C923.6,1311.4 919,1307.5 917.4,1306.8" stroke="#000" stroke-width="1.9" fill="none" stroke-linejoin="round" stroke-linecap="round"/>
<path d="M929.9,1288.1 C930.9,1287.3 933.5,1283.4 936.1,1283.4 C938.7,1283.4 943.4,1284.4 945.5,1288.1 C947.5,1291.7 948.8,1301.8 948.6,1305.2 C948.3,1308.6 944.7,1307.8 943.9,1308.3" stroke="#000" stroke-width="1.9" fill="none" stroke-linejoin="round" stroke-linecap="round"/>
<path d="M870,1100 C870.4,1105 867.5,1122.1 872.5,1130 C877.5,1137.9 890.8,1142.1 900,1147.5 C909.2,1152.9 919.2,1159.6 927.5,1162.5 C935.8,1165.4 942.5,1167.1 950,1165 C957.5,1162.9 967.9,1157.5 972.5,1150 C977.1,1142.5 977.1,1128.3 977.5,1120 C977.9,1111.7 975.4,1103.3 975,1100" stroke="#000" stroke-width="1.9" fill="none" stroke-linejoin="round" stroke-linecap="round"/>
<path d="M905,1100 C906.2,1101.7 909.6,1107.9 912.5,1110 C915.4,1112.1 920.8,1112.1 922.5,1112.5" stroke="#000" stroke-width="1.9" fill="none" stroke-linejoin="round" stroke-linecap="round"/>
<path d="M972.5,1145 C977.1,1143.8 991,1143.8 1000,1137.5 C1009,1131.2 1021.9,1112.5 1026.2,1107.5" stroke="#000" stroke-width="1.9" fill="none" stroke-linejoin="round" stroke-linecap="round"/>
<text x="0" y="0" transform="translate(1392 1162) scale(0.96 1)" font-family="Liberation Sans" font-size="34.5" font-weight="bold" text-anchor="start">20</text>
<path d="M1322.7,1110.5 L1385.8,1147.9" stroke="#000" stroke-width="2" fill="none" stroke-linejoin="round" stroke-linecap="round"/>
<path d="M1322.7,1111.7 L1370.6,1190.6" stroke="#000" stroke-width="2" fill="none" stroke-linejoin="round" stroke-linecap="round"/>
<text x="0" y="0" transform="translate(1311 1215.7) scale(1.064 1)" font-family="Liberation Sans" font-size="24" font-weight="normal" text-anchor="start" stroke="#000" stroke-width="0.8">11 ± 1 N·m</text>
<text x="0" y="0" transform="translate(1311 1246.7) scale(1.076 1)" font-family="Liberation Sans" font-size="24" font-weight="normal" text-anchor="start" stroke="#000" stroke-width="0.8">98 ± 8 in-lb</text>
<path d="M1130,1136.2 C1136.2,1135.6 1158.3,1134.8 1167.5,1132.5 C1176.7,1130.2 1180,1125.2 1185,1122.5 C1190,1119.8 1195.4,1117.3 1197.5,1116.2" stroke="#000" stroke-width="1.9" fill="none" stroke-linejoin="round" stroke-linecap="round"/>
<path d="M1167.5,1135 C1167.7,1139.2 1169.6,1155 1168.8,1160 C1167.9,1165 1172.3,1159 1162.5,1165 C1152.7,1171 1118.8,1191 1110,1196.2" stroke="#000" stroke-width="1.9" fill="none" stroke-linejoin="round" stroke-linecap="round"/>
<path d="M1025,1172.5 C1028,1174 1049.8,1184 1055,1187.5 C1060.2,1191 1074.5,1204.2 1077.5,1207.5 C1080.5,1210.8 1085,1217 1085,1220 C1085,1223 1079.2,1235.5 1077.5,1237.5 C1075.8,1239.5 1068.2,1237.2 1067.5,1240 C1066.8,1242.8 1070.5,1261 1070,1265 C1069.5,1269 1067,1276 1062.5,1280 C1058,1284 1028.8,1302.5 1025,1305" stroke="#000" stroke-width="1.9" fill="none" stroke-linejoin="round" stroke-linecap="round"/>
<path d="M1082.5,1210 C1085.4,1208.3 1095,1200.8 1100,1200 C1105,1199.2 1110,1201.7 1112.5,1205 C1115,1208.3 1115.4,1214.2 1115,1220 C1114.6,1225.8 1110.8,1236.7 1110,1240" stroke="#000" stroke-width="10.9" fill="none" stroke-linecap="butt" stroke-linejoin="round"/>
<path d="M1082.5,1210 C1085.4,1208.3 1095,1200.8 1100,1200 C1105,1199.2 1110,1201.7 1112.5,1205 C1115,1208.3 1115.4,1214.2 1115,1220 C1114.6,1225.8 1110.8,1236.7 1110,1240" stroke="#fff" stroke-width="7.1" fill="none" stroke-linecap="butt" stroke-linejoin="round"/>
<path d="M1095,1222.5 L1107.5,1220 L1120,1225 L1117.5,1250 L1112.5,1260 L1092.5,1257.5 L1095,1240 Z" stroke="#000" stroke-width="1.9" fill="#fff" stroke-linejoin="round" stroke-linecap="round"/>
<path d="M1025,1152.5 C1027.5,1152.9 1037.9,1151.2 1040,1155 C1042.1,1158.8 1037.9,1171.7 1037.5,1175" stroke="#000" stroke-width="1.9" fill="none" stroke-linejoin="round" stroke-linecap="round"/>
<path d="M1040,1205 C1043.8,1204.2 1055,1198.3 1062.5,1200 C1070,1201.7 1081.2,1212.5 1085,1215" stroke="#000" stroke-width="1.9" fill="none" stroke-linejoin="round" stroke-linecap="round"/>
<path d="M1032.5,1210 C1032.1,1212.1 1028.8,1218.3 1030,1222.5 C1031.2,1226.7 1035.4,1232.1 1040,1235 C1044.6,1237.9 1054.6,1239.2 1057.5,1240" stroke="#000" stroke-width="1.9" fill="none" stroke-linejoin="round" stroke-linecap="round"/>
<path d="M1025,1082.5 C1026.2,1080.4 1028.3,1073.8 1032.5,1070 C1036.7,1066.2 1047.1,1061.7 1050,1060" stroke="#000" stroke-width="1.9" fill="none" stroke-linejoin="round" stroke-linecap="round"/>
<path d="M1025,1300 C1027.5,1299.2 1036.2,1294.2 1040,1295 C1043.8,1295.8 1047.5,1302.5 1047.5,1305 C1047.5,1307.5 1041.2,1309.2 1040,1310" stroke="#000" stroke-width="1.9" fill="none" stroke-linejoin="round" stroke-linecap="round"/>
<path d="M831.2,1300 C834.7,1301.2 859.2,1309.6 867,1311.9 C874.8,1314.3 902.8,1321.5 908.8,1323.9 C914.8,1326.3 923.8,1334.5 926.7,1335.8 C929.7,1337.2 935.1,1338.1 938.7,1337.3 C942.3,1336.6 959.6,1328.8 962.6,1328.4 C965.6,1327.9 965.6,1331.8 968.6,1332.9 C971.5,1333.9 989.8,1339.4 992.4,1338.8 C995.1,1338.2 992.4,1330.5 995.4,1326.9 C998.4,1323.3 1018.1,1304.8 1022.3,1303 C1026.5,1301.2 1034.7,1309 1037.3,1309 C1039.8,1309 1046.7,1303.6 1047.7,1303" stroke="#000" stroke-width="1.9" fill="none" stroke-linejoin="round" stroke-linecap="round"/>
<path d="M870,1300 C870.5,1302 868.5,1309 873,1311.9 C877.5,1314.9 892.9,1316.9 896.9,1317.9" stroke="#000" stroke-width="1.9" fill="none" stroke-linejoin="round" stroke-linecap="round"/>
<path d="M896.9,1300 C898.9,1303.5 906.3,1316.4 908.8,1320.9 C911.3,1325.4 911.3,1325.9 911.8,1326.9" stroke="#000" stroke-width="1.9" fill="none" stroke-linejoin="round" stroke-linecap="round"/>
<path d="M950.6,1300 C948.6,1304 942.7,1317.9 938.7,1323.9 C934.7,1329.9 928.7,1333.9 926.7,1335.8" stroke="#000" stroke-width="1.9" fill="none" stroke-linejoin="round" stroke-linecap="round"/>
<path d="M962.6,1300 L962.6,1326.9" stroke="#000" stroke-width="1.9" fill="none" stroke-linejoin="round" stroke-linecap="round"/>
<path d="M974.5,1300 C975.5,1303.5 977,1316.4 980.5,1320.9 C984,1325.4 992.9,1325.9 995.4,1326.9" stroke="#000" stroke-width="1.9" fill="none" stroke-linejoin="round" stroke-linecap="round"/>
<path d="M914.8,1306 C917.8,1307.5 927.2,1314.9 932.7,1314.9 C938.2,1314.9 945.2,1307.5 947.6,1306" stroke="#000" stroke-width="1.9" fill="none" stroke-linejoin="round" stroke-linecap="round"/>
<text x="0" y="0" transform="translate(528.5 911.2) scale(0.96 1)" font-family="Liberation Sans" font-size="34.5" font-weight="bold" text-anchor="start">19</text>
<path d="M487.5,808.8 L532.5,883.8" stroke="#000" stroke-width="2" fill="none" stroke-linejoin="round" stroke-linecap="round"/>
<text x="0" y="0" transform="translate(420 1011.2) scale(0.96 1)" font-family="Liberation Sans" font-size="34.5" font-weight="bold" text-anchor="start">18</text>
<path d="M375,903.8 L423.8,981.2" stroke="#000" stroke-width="2" fill="none" stroke-linejoin="round" stroke-linecap="round"/>
</svg>
<div class="t" style="left:333.00px;top:1586.01px;font-size:29px;font-weight:bold;transform:scaleX(0.982);">REMOVAL STEPS</div>
<div class="t" style="left:269.00px;top:1619.76px;font-size:29px;transform:scaleX(0.982);">1.</div>
<div class="t" style="left:332.50px;top:1619.76px;font-size:29px;transform:scaleX(0.982);">IGNITION COIL CONNECTORS</div>
<div class="t" style="left:269.00px;top:1654.26px;font-size:29px;transform:scaleX(0.982);">2.</div>
<div class="t" style="left:332.50px;top:1654.26px;font-size:29px;transform:scaleX(0.982);">HEATER OXYGEN SENSOR</div>
<div class="t" style="left:332.50px;top:1688.51px;font-size:29px;transform:scaleX(0.982);">(FRONT) CONNECTOR</div>
<div class="t" style="left:269.00px;top:1723.01px;font-size:29px;transform:scaleX(0.982);">3.</div>
<div class="t" style="left:332.50px;top:1723.01px;font-size:29px;transform:scaleX(0.982);">CRANKSHAFT POSITION</div>
<div class="t" style="left:332.50px;top:1757.26px;font-size:29px;transform:scaleX(0.982);">SENSOR CONNECTOR</div>
<div class="t" style="left:269.00px;top:1791.76px;font-size:29px;transform:scaleX(0.982);">4.</div>
<div class="t" style="left:332.50px;top:1791.76px;font-size:29px;transform:scaleX(0.982);">MANIFOLD DIFFERENTIAL</div>
<div class="t" style="left:332.50px;top:1826.01px;font-size:29px;transform:scaleX(0.982);">PRESSURE SENSOR</div>
<div class="t" style="left:332.50px;top:1860.51px;font-size:29px;transform:scaleX(0.982);">CONNECTOR</div>
<div class="t" style="left:269.00px;top:1894.26px;font-size:29px;transform:scaleX(0.982);">5.</div>
<div class="t" style="left:332.50px;top:1894.26px;font-size:29px;transform:scaleX(0.982);">FUEL PRESSURE SOLENOID</div>
<div class="t" style="left:332.50px;top:1928.76px;font-size:29px;transform:scaleX(0.982);">CONNECTOR</div>
<div class="t" style="left:269.00px;top:1963.01px;font-size:29px;transform:scaleX(0.982);">6.</div>
<div class="t" style="left:332.50px;top:1963.01px;font-size:29px;transform:scaleX(0.982);">KNOCK SENSOR CONNECTOR</div>
<div class="t" style="left:269.00px;top:1997.26px;font-size:29px;transform:scaleX(0.982);">7.</div>
<div class="t" style="left:332.50px;top:1997.26px;font-size:29px;transform:scaleX(0.982);">EVAPORATIVE EMISSION</div>
<div class="t" style="left:332.50px;top:2031.26px;font-size:29px;transform:scaleX(0.982);">PURGE SOLENOID CONNECTOR</div>
<div class="t" style="left:269.00px;top:2064.26px;font-size:29px;transform:scaleX(0.982);">8.</div>
<div class="t" style="left:328.50px;top:2064.26px;font-size:29px;transform:scaleX(0.982);">THROTTLE POSITION SENSOR</div>
<div class="t" style="left:328.50px;top:2098.76px;font-size:29px;transform:scaleX(0.982);">CONNECTOR</div>
<div class="t" style="left:269.00px;top:2132.26px;font-size:29px;transform:scaleX(0.982);">9.</div>
<div class="t" style="left:328.50px;top:2132.26px;font-size:29px;transform:scaleX(0.982);">IDLE AIR CONTROL MOTOR</div>
<div class="t" style="left:328.50px;top:2166.76px;font-size:29px;transform:scaleX(0.982);">CONNECTOR</div>
<div class="t" style="left:269.00px;top:2201.01px;font-size:29px;transform:scaleX(0.982);">10.</div>
<div class="t" style="left:328.50px;top:2201.01px;font-size:29px;transform:scaleX(0.982);">INJECTOR CONNECTORS</div>
<div class="t" style="left:1107.50px;top:1581.76px;font-size:29px;font-weight:bold;transform:scaleX(0.982);">REMOVAL STEPS (Continued)</div>
<div class="t" style="left:1046.00px;top:1637.26px;font-size:29px;transform:scaleX(0.982);">11.</div>
<div class="t" style="left:1107.50px;top:1637.26px;font-size:29px;transform:scaleX(0.982);">CAMSHAFT POSITION SENSOR</div>
<div class="t" style="left:1107.50px;top:1671.51px;font-size:29px;transform:scaleX(0.982);">CONNECTOR</div>
<div class="t" style="left:1046.00px;top:1705.76px;font-size:29px;transform:scaleX(0.982);">12.</div>
<div class="t" style="left:1107.50px;top:1705.76px;font-size:29px;transform:scaleX(0.982);">ENGINE COOLANT</div>
<div class="t" style="left:1107.50px;top:1740.01px;font-size:29px;transform:scaleX(0.982);">TEMPERATURE GAUGE UNIT</div>
<div class="t" style="left:1107.50px;top:1774.26px;font-size:29px;transform:scaleX(0.982);">CONNECTOR</div>
<div class="t" style="left:1046.00px;top:1808.51px;font-size:29px;transform:scaleX(0.982);">13.</div>
<div class="t" style="left:1107.50px;top:1808.51px;font-size:29px;transform:scaleX(0.982);">ENGINE COOLANT</div>
<div class="t" style="left:1107.50px;top:1842.76px;font-size:29px;transform:scaleX(0.982);">TEMPERATURE SENSOR</div>
<div class="t" style="left:1107.50px;top:1877.01px;font-size:29px;transform:scaleX(0.982);">CONNECTOR</div>
<div class="t" style="left:1046.00px;top:1914.76px;font-size:29px;transform:scaleX(0.982);">14.</div>
<div class="t" style="left:1107.50px;top:1914.76px;font-size:29px;transform:scaleX(0.982);">CONTROL WIRING HARNESS</div>
<div class="t" style="left:1107.50px;top:1948.96px;font-size:29px;transform:scaleX(0.982);">AND TRANSAXLE WIRING</div>
<div class="t" style="left:1107.50px;top:1983.16px;font-size:29px;transform:scaleX(0.982);">HARNESS COMBINATION</div>
<div class="t" style="left:1046.00px;top:2017.36px;font-size:29px;transform:scaleX(0.982);">15.</div>
<div class="t" style="left:1107.50px;top:2017.36px;font-size:29px;transform:scaleX(0.982);">GROUND CABLE CONNECTION</div>
<div class="t" style="left:1046.00px;top:2051.56px;font-size:29px;transform:scaleX(0.982);">16.</div>
<div class="t" style="left:1107.50px;top:2051.56px;font-size:29px;transform:scaleX(0.982);">GENERATOR CONNECTOR</div>
<div class="t" style="left:1046.00px;top:2085.76px;font-size:29px;transform:scaleX(0.982);">17.</div>
<div class="t" style="left:1107.50px;top:2085.76px;font-size:29px;transform:scaleX(0.982);">GENERATOR TERMINAL</div>
<div class="t" style="left:1046.00px;top:2119.95px;font-size:29px;transform:scaleX(0.982);">18.</div>
<div class="t" style="left:1107.50px;top:2119.95px;font-size:29px;transform:scaleX(0.982);">EGR VACUUM REGULATOR</div>
<div class="t" style="left:1107.50px;top:2154.16px;font-size:29px;transform:scaleX(0.982);">SOLENOID VALVE CONNECTOR</div>
<div class="t" style="left:1046.00px;top:2188.36px;font-size:29px;transform:scaleX(0.982);">19.</div>
<div class="t" style="left:1107.50px;top:2188.36px;font-size:29px;transform:scaleX(0.982);">ENGINE OIL PRESSURE SWITCH</div>
<div class="t" style="left:1107.50px;top:2222.56px;font-size:29px;transform:scaleX(0.982);">CONNECTOR</div>
<div class="t" style="left:1046.00px;top:2256.76px;font-size:29px;transform:scaleX(0.982);">20.</div>
<div class="t" style="left:1107.50px;top:2256.76px;font-size:29px;transform:scaleX(0.982);">TURBOCHARGER WASTEGATE</div>
<div class="t" style="left:1107.50px;top:2290.95px;font-size:29px;transform:scaleX(0.982);">ACTUATOR BOLTS</div>
<div class="t" style="left:1046.00px;top:2325.16px;font-size:29px;transform:scaleX(0.982);">21.</div>
<div class="t" style="left:1107.50px;top:2325.16px;font-size:29px;transform:scaleX(0.982);">DRIVE BELT</div>
<div class="t" style="left:905.00px;top:2320.45px;font-size:31px;font-weight:bold;transform:scaleX(0.85);">&lt;&lt;A&gt;&gt;</div>
<div class="t" style="left:36.00px;top:2377.47px;font-size:26px;font-weight:bold;transform:scaleX(0.985);">G00977463</div>

</body></html>
